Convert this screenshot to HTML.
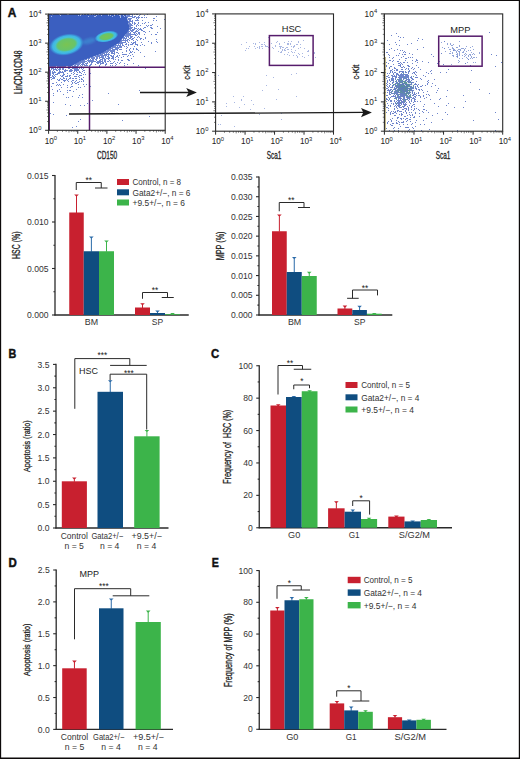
<!DOCTYPE html><html><head><meta charset="utf-8"><title>Figure</title><style>html,body{margin:0;padding:0;background:#fff;}svg{display:block;font-family:"Liberation Sans",sans-serif;}</style></head><body><svg width="520" height="759" viewBox="0 0 520 759" font-family="Liberation Sans"><defs><radialGradient id="blobA" cx="50%" cy="50%" r="50%"><stop offset="0" stop-color="#86c45a"/><stop offset="0.45" stop-color="#62c07a"/><stop offset="0.7" stop-color="#3fbde0"/><stop offset="1" stop-color="#3fa6e0" stop-opacity="0"/></radialGradient><radialGradient id="gb" cx="50%" cy="50%" r="50%"><stop offset="0" stop-color="#7ac452"/><stop offset="0.5" stop-color="#68c46a"/><stop offset="0.64" stop-color="#46c2d6"/><stop offset="0.78" stop-color="#3fb5e8"/><stop offset="0.9" stop-color="#3b86d0" stop-opacity="0.8"/><stop offset="1" stop-color="#3b5fc0" stop-opacity="0"/></radialGradient><radialGradient id="gb2" cx="50%" cy="50%" r="50%"><stop offset="0" stop-color="#7ac452"/><stop offset="0.5" stop-color="#68c46a"/><stop offset="0.66" stop-color="#46c2d6"/><stop offset="0.8" stop-color="#3fb5e8"/><stop offset="0.92" stop-color="#3b86d0" stop-opacity="0.8"/><stop offset="1" stop-color="#3b5fc0" stop-opacity="0"/></radialGradient><filter id="bl1" x="-20%" y="-20%" width="140%" height="140%"><feGaussianBlur stdDeviation="1.2"/></filter><filter id="bl2" x="-50%" y="-50%" width="200%" height="200%"><feGaussianBlur stdDeviation="2.5"/></filter><clipPath id="cp1"><rect x="48.6" y="14.1" width="116.6" height="116.2"/></clipPath><clipPath id="cp3"><rect x="384.4" y="13.9" width="118.3" height="117.3"/></clipPath></defs><rect x="0" y="0" width="520" height="759" fill="#fff"/><g clip-path="url(#cp1)"><polygon points="48,13.5 126,13.5 130,29 119,43 101,54 81,61 72,66 48,66" fill="#3b5fc0"/><path d="M126.0 14.0h1v1h-1zM127.0 14.0h1v1h-1zM128.0 14.0h1v1h-1zM129.0 14.0h1v1h-1zM130.0 14.0h1v1h-1zM131.0 14.0h1v1h-1zM132.0 14.0h1v1h-1zM134.0 14.0h1v1h-1zM136.0 14.0h1v1h-1zM137.0 14.0h1v1h-1zM140.0 14.0h1v1h-1zM147.0 14.0h1v1h-1zM127.0 15.0h1v1h-1zM128.0 15.0h1v1h-1zM129.0 15.0h1v1h-1zM132.0 15.0h1v1h-1zM139.0 15.0h1v1h-1zM144.0 15.0h1v1h-1zM127.0 16.0h1v1h-1zM128.0 16.0h1v1h-1zM129.0 16.0h1v1h-1zM130.0 16.0h1v1h-1zM131.0 16.0h1v1h-1zM132.0 16.0h1v1h-1zM134.0 16.0h1v1h-1zM135.0 16.0h1v1h-1zM138.0 16.0h1v1h-1zM156.0 16.0h1v1h-1zM127.0 17.0h1v1h-1zM132.0 17.0h1v1h-1zM133.0 17.0h1v1h-1zM134.0 17.0h1v1h-1zM136.0 17.0h1v1h-1zM137.0 17.0h1v1h-1zM138.0 17.0h1v1h-1zM139.0 17.0h1v1h-1zM141.0 17.0h1v1h-1zM142.0 17.0h1v1h-1zM144.0 17.0h1v1h-1zM146.0 17.0h1v1h-1zM128.0 18.0h1v1h-1zM129.0 18.0h1v1h-1zM130.0 18.0h1v1h-1zM131.0 18.0h1v1h-1zM136.0 18.0h1v1h-1zM138.0 18.0h1v1h-1zM153.0 18.0h1v1h-1zM154.0 18.0h1v1h-1zM128.0 19.0h1v1h-1zM129.0 19.0h1v1h-1zM130.0 19.0h1v1h-1zM137.0 19.0h1v1h-1zM164.0 19.0h1v1h-1zM129.0 20.0h1v1h-1zM130.0 20.0h1v1h-1zM132.0 20.0h1v1h-1zM135.0 20.0h1v1h-1zM136.0 20.0h1v1h-1zM137.0 20.0h1v1h-1zM138.0 20.0h1v1h-1zM142.0 20.0h1v1h-1zM153.0 20.0h1v1h-1zM156.0 20.0h1v1h-1zM128.0 21.0h1v1h-1zM129.0 21.0h1v1h-1zM130.0 21.0h1v1h-1zM131.0 21.0h1v1h-1zM132.0 21.0h1v1h-1zM128.0 22.0h1v1h-1zM129.0 22.0h1v1h-1zM132.0 22.0h1v1h-1zM134.0 22.0h1v1h-1zM138.0 22.0h1v1h-1zM145.0 22.0h1v1h-1zM148.0 22.0h1v1h-1zM129.0 23.0h1v1h-1zM130.0 23.0h1v1h-1zM132.0 23.0h1v1h-1zM134.0 23.0h1v1h-1zM135.0 23.0h1v1h-1zM138.0 23.0h1v1h-1zM142.0 23.0h1v1h-1zM144.0 23.0h1v1h-1zM129.0 24.0h1v1h-1zM130.0 24.0h1v1h-1zM131.0 24.0h1v1h-1zM134.0 24.0h1v1h-1zM137.0 24.0h1v1h-1zM152.0 24.0h1v1h-1zM129.0 25.0h1v1h-1zM130.0 25.0h1v1h-1zM131.0 25.0h1v1h-1zM132.0 25.0h1v1h-1zM136.0 25.0h1v1h-1zM138.0 25.0h1v1h-1zM140.0 25.0h1v1h-1zM146.0 25.0h1v1h-1zM148.0 25.0h1v1h-1zM150.0 25.0h1v1h-1zM151.0 25.0h1v1h-1zM129.0 26.0h1v1h-1zM130.0 26.0h1v1h-1zM136.0 26.0h1v1h-1zM147.0 26.0h1v1h-1zM157.0 26.0h1v1h-1zM130.0 27.0h1v1h-1zM131.0 27.0h1v1h-1zM132.0 27.0h1v1h-1zM134.0 27.0h1v1h-1zM144.0 27.0h1v1h-1zM145.0 27.0h1v1h-1zM150.0 27.0h1v1h-1zM151.0 27.0h1v1h-1zM130.0 28.0h1v1h-1zM131.0 28.0h1v1h-1zM134.0 28.0h1v1h-1zM135.0 28.0h1v1h-1zM136.0 28.0h1v1h-1zM138.0 28.0h1v1h-1zM140.0 28.0h1v1h-1zM143.0 28.0h1v1h-1zM151.0 28.0h1v1h-1zM152.0 28.0h1v1h-1zM160.0 28.0h1v1h-1zM130.0 29.0h1v1h-1zM132.0 29.0h1v1h-1zM133.0 29.0h1v1h-1zM134.0 29.0h1v1h-1zM137.0 29.0h1v1h-1zM139.0 29.0h1v1h-1zM140.0 29.0h1v1h-1zM141.0 29.0h1v1h-1zM130.0 30.0h1v1h-1zM131.0 30.0h1v1h-1zM132.0 30.0h1v1h-1zM133.0 30.0h1v1h-1zM136.0 30.0h1v1h-1zM138.0 30.0h1v1h-1zM141.0 30.0h1v1h-1zM142.0 30.0h1v1h-1zM128.0 31.0h1v1h-1zM129.0 31.0h1v1h-1zM131.0 31.0h1v1h-1zM132.0 31.0h1v1h-1zM135.0 31.0h1v1h-1zM136.0 31.0h1v1h-1zM137.0 31.0h1v1h-1zM143.0 31.0h1v1h-1zM144.0 31.0h1v1h-1zM149.0 31.0h1v1h-1zM127.0 32.0h1v1h-1zM128.0 32.0h1v1h-1zM130.0 32.0h1v1h-1zM133.0 32.0h1v1h-1zM134.0 32.0h1v1h-1zM135.0 32.0h1v1h-1zM138.0 32.0h1v1h-1zM139.0 32.0h1v1h-1zM145.0 32.0h1v1h-1zM157.0 32.0h1v1h-1zM126.0 33.0h1v1h-1zM127.0 33.0h1v1h-1zM128.0 33.0h1v1h-1zM129.0 33.0h1v1h-1zM130.0 33.0h1v1h-1zM134.0 33.0h1v1h-1zM136.0 33.0h1v1h-1zM138.0 33.0h1v1h-1zM139.0 33.0h1v1h-1zM126.0 34.0h1v1h-1zM127.0 34.0h1v1h-1zM128.0 34.0h1v1h-1zM129.0 34.0h1v1h-1zM130.0 34.0h1v1h-1zM131.0 34.0h1v1h-1zM132.0 34.0h1v1h-1zM133.0 34.0h1v1h-1zM134.0 34.0h1v1h-1zM135.0 34.0h1v1h-1zM137.0 34.0h1v1h-1zM139.0 34.0h1v1h-1zM144.0 34.0h1v1h-1zM151.0 34.0h1v1h-1zM155.0 34.0h1v1h-1zM156.0 34.0h1v1h-1zM125.0 35.0h1v1h-1zM126.0 35.0h1v1h-1zM127.0 35.0h1v1h-1zM128.0 35.0h1v1h-1zM129.0 35.0h1v1h-1zM130.0 35.0h1v1h-1zM135.0 35.0h1v1h-1zM136.0 35.0h1v1h-1zM125.0 36.0h1v1h-1zM126.0 36.0h1v1h-1zM127.0 36.0h1v1h-1zM128.0 36.0h1v1h-1zM130.0 36.0h1v1h-1zM131.0 36.0h1v1h-1zM132.0 36.0h1v1h-1zM138.0 36.0h1v1h-1zM123.0 37.0h1v1h-1zM124.0 37.0h1v1h-1zM126.0 37.0h1v1h-1zM128.0 37.0h1v1h-1zM130.0 37.0h1v1h-1zM131.0 37.0h1v1h-1zM134.0 37.0h1v1h-1zM137.0 37.0h1v1h-1zM139.0 37.0h1v1h-1zM145.0 37.0h1v1h-1zM123.0 38.0h1v1h-1zM124.0 38.0h1v1h-1zM125.0 38.0h1v1h-1zM126.0 38.0h1v1h-1zM129.0 38.0h1v1h-1zM130.0 38.0h1v1h-1zM132.0 38.0h1v1h-1zM133.0 38.0h1v1h-1zM140.0 38.0h1v1h-1zM141.0 38.0h1v1h-1zM145.0 38.0h1v1h-1zM123.0 39.0h1v1h-1zM125.0 39.0h1v1h-1zM127.0 39.0h1v1h-1zM128.0 39.0h1v1h-1zM131.0 39.0h1v1h-1zM132.0 39.0h1v1h-1zM136.0 39.0h1v1h-1zM140.0 39.0h1v1h-1zM143.0 39.0h1v1h-1zM156.0 39.0h1v1h-1zM121.0 40.0h1v1h-1zM122.0 40.0h1v1h-1zM123.0 40.0h1v1h-1zM124.0 40.0h1v1h-1zM125.0 40.0h1v1h-1zM126.0 40.0h1v1h-1zM127.0 40.0h1v1h-1zM129.0 40.0h1v1h-1zM133.0 40.0h1v1h-1zM137.0 40.0h1v1h-1zM120.0 41.0h1v1h-1zM121.0 41.0h1v1h-1zM125.0 41.0h1v1h-1zM127.0 41.0h1v1h-1zM135.0 41.0h1v1h-1zM148.0 41.0h1v1h-1zM156.0 41.0h1v1h-1zM119.0 42.0h1v1h-1zM120.0 42.0h1v1h-1zM121.0 42.0h1v1h-1zM122.0 42.0h1v1h-1zM123.0 42.0h1v1h-1zM124.0 42.0h1v1h-1zM125.0 42.0h1v1h-1zM128.0 42.0h1v1h-1zM131.0 42.0h1v1h-1zM133.0 42.0h1v1h-1zM134.0 42.0h1v1h-1zM135.0 42.0h1v1h-1zM141.0 42.0h1v1h-1zM151.0 42.0h1v1h-1zM157.0 42.0h1v1h-1zM118.0 43.0h1v1h-1zM119.0 43.0h1v1h-1zM120.0 43.0h1v1h-1zM121.0 43.0h1v1h-1zM122.0 43.0h1v1h-1zM126.0 43.0h1v1h-1zM132.0 43.0h1v1h-1zM133.0 43.0h1v1h-1zM135.0 43.0h1v1h-1zM151.0 43.0h1v1h-1zM118.0 44.0h1v1h-1zM120.0 44.0h1v1h-1zM122.0 44.0h1v1h-1zM125.0 44.0h1v1h-1zM126.0 44.0h1v1h-1zM128.0 44.0h1v1h-1zM130.0 44.0h1v1h-1zM131.0 44.0h1v1h-1zM132.0 44.0h1v1h-1zM135.0 44.0h1v1h-1zM136.0 44.0h1v1h-1zM137.0 44.0h1v1h-1zM142.0 44.0h1v1h-1zM115.0 45.0h1v1h-1zM116.0 45.0h1v1h-1zM117.0 45.0h1v1h-1zM118.0 45.0h1v1h-1zM119.0 45.0h1v1h-1zM120.0 45.0h1v1h-1zM122.0 45.0h1v1h-1zM123.0 45.0h1v1h-1zM128.0 45.0h1v1h-1zM137.0 45.0h1v1h-1zM140.0 45.0h1v1h-1zM144.0 45.0h1v1h-1zM113.0 46.0h1v1h-1zM114.0 46.0h1v1h-1zM115.0 46.0h1v1h-1zM117.0 46.0h1v1h-1zM119.0 46.0h1v1h-1zM120.0 46.0h1v1h-1zM121.0 46.0h1v1h-1zM124.0 46.0h1v1h-1zM126.0 46.0h1v1h-1zM134.0 46.0h1v1h-1zM112.0 47.0h1v1h-1zM113.0 47.0h1v1h-1zM114.0 47.0h1v1h-1zM115.0 47.0h1v1h-1zM116.0 47.0h1v1h-1zM117.0 47.0h1v1h-1zM118.0 47.0h1v1h-1zM119.0 47.0h1v1h-1zM120.0 47.0h1v1h-1zM121.0 47.0h1v1h-1zM127.0 47.0h1v1h-1zM110.0 48.0h1v1h-1zM111.0 48.0h1v1h-1zM112.0 48.0h1v1h-1zM115.0 48.0h1v1h-1zM116.0 48.0h1v1h-1zM117.0 48.0h1v1h-1zM118.0 48.0h1v1h-1zM126.0 48.0h1v1h-1zM130.0 48.0h1v1h-1zM133.0 48.0h1v1h-1zM136.0 48.0h1v1h-1zM108.0 49.0h1v1h-1zM109.0 49.0h1v1h-1zM110.0 49.0h1v1h-1zM112.0 49.0h1v1h-1zM113.0 49.0h1v1h-1zM114.0 49.0h1v1h-1zM115.0 49.0h1v1h-1zM116.0 49.0h1v1h-1zM117.0 49.0h1v1h-1zM119.0 49.0h1v1h-1zM120.0 49.0h1v1h-1zM121.0 49.0h1v1h-1zM129.0 49.0h1v1h-1zM133.0 49.0h1v1h-1zM136.0 49.0h1v1h-1zM137.0 49.0h1v1h-1zM107.0 50.0h1v1h-1zM108.0 50.0h1v1h-1zM109.0 50.0h1v1h-1zM110.0 50.0h1v1h-1zM111.0 50.0h1v1h-1zM112.0 50.0h1v1h-1zM113.0 50.0h1v1h-1zM114.0 50.0h1v1h-1zM117.0 50.0h1v1h-1zM126.0 50.0h1v1h-1zM129.0 50.0h1v1h-1zM138.0 50.0h1v1h-1zM105.0 51.0h1v1h-1zM106.0 51.0h1v1h-1zM107.0 51.0h1v1h-1zM108.0 51.0h1v1h-1zM110.0 51.0h1v1h-1zM111.0 51.0h1v1h-1zM112.0 51.0h1v1h-1zM113.0 51.0h1v1h-1zM114.0 51.0h1v1h-1zM126.0 51.0h1v1h-1zM130.0 51.0h1v1h-1zM132.0 51.0h1v1h-1zM155.0 51.0h1v1h-1zM103.0 52.0h1v1h-1zM104.0 52.0h1v1h-1zM105.0 52.0h1v1h-1zM106.0 52.0h1v1h-1zM107.0 52.0h1v1h-1zM109.0 52.0h1v1h-1zM111.0 52.0h1v1h-1zM112.0 52.0h1v1h-1zM114.0 52.0h1v1h-1zM116.0 52.0h1v1h-1zM117.0 52.0h1v1h-1zM122.0 52.0h1v1h-1zM130.0 52.0h1v1h-1zM131.0 52.0h1v1h-1zM134.0 52.0h1v1h-1zM140.0 52.0h1v1h-1zM102.0 53.0h1v1h-1zM103.0 53.0h1v1h-1zM104.0 53.0h1v1h-1zM106.0 53.0h1v1h-1zM108.0 53.0h1v1h-1zM111.0 53.0h1v1h-1zM112.0 53.0h1v1h-1zM113.0 53.0h1v1h-1zM114.0 53.0h1v1h-1zM118.0 53.0h1v1h-1zM129.0 53.0h1v1h-1zM100.0 54.0h1v1h-1zM101.0 54.0h1v1h-1zM102.0 54.0h1v1h-1zM104.0 54.0h1v1h-1zM105.0 54.0h1v1h-1zM106.0 54.0h1v1h-1zM107.0 54.0h1v1h-1zM108.0 54.0h1v1h-1zM109.0 54.0h1v1h-1zM114.0 54.0h1v1h-1zM122.0 54.0h1v1h-1zM123.0 54.0h1v1h-1zM124.0 54.0h1v1h-1zM125.0 54.0h1v1h-1zM126.0 54.0h1v1h-1zM132.0 54.0h1v1h-1zM97.0 55.0h1v1h-1zM98.0 55.0h1v1h-1zM99.0 55.0h1v1h-1zM100.0 55.0h1v1h-1zM101.0 55.0h1v1h-1zM102.0 55.0h1v1h-1zM103.0 55.0h1v1h-1zM104.0 55.0h1v1h-1zM105.0 55.0h1v1h-1zM106.0 55.0h1v1h-1zM108.0 55.0h1v1h-1zM110.0 55.0h1v1h-1zM111.0 55.0h1v1h-1zM113.0 55.0h1v1h-1zM117.0 55.0h1v1h-1zM119.0 55.0h1v1h-1zM128.0 55.0h1v1h-1zM130.0 55.0h1v1h-1zM95.0 56.0h1v1h-1zM96.0 56.0h1v1h-1zM97.0 56.0h1v1h-1zM98.0 56.0h1v1h-1zM99.0 56.0h1v1h-1zM101.0 56.0h1v1h-1zM102.0 56.0h1v1h-1zM103.0 56.0h1v1h-1zM105.0 56.0h1v1h-1zM107.0 56.0h1v1h-1zM108.0 56.0h1v1h-1zM111.0 56.0h1v1h-1zM112.0 56.0h1v1h-1zM113.0 56.0h1v1h-1zM116.0 56.0h1v1h-1zM117.0 56.0h1v1h-1zM123.0 56.0h1v1h-1zM127.0 56.0h1v1h-1zM133.0 56.0h1v1h-1zM144.0 56.0h1v1h-1zM91.0 57.0h1v1h-1zM92.0 57.0h1v1h-1zM93.0 57.0h1v1h-1zM94.0 57.0h1v1h-1zM96.0 57.0h1v1h-1zM97.0 57.0h1v1h-1zM99.0 57.0h1v1h-1zM100.0 57.0h1v1h-1zM101.0 57.0h1v1h-1zM102.0 57.0h1v1h-1zM103.0 57.0h1v1h-1zM105.0 57.0h1v1h-1zM108.0 57.0h1v1h-1zM109.0 57.0h1v1h-1zM112.0 57.0h1v1h-1zM113.0 57.0h1v1h-1zM115.0 57.0h1v1h-1zM118.0 57.0h1v1h-1zM121.0 57.0h1v1h-1zM88.0 58.0h1v1h-1zM89.0 58.0h1v1h-1zM91.0 58.0h1v1h-1zM92.0 58.0h1v1h-1zM93.0 58.0h1v1h-1zM94.0 58.0h1v1h-1zM96.0 58.0h1v1h-1zM97.0 58.0h1v1h-1zM99.0 58.0h1v1h-1zM102.0 58.0h1v1h-1zM103.0 58.0h1v1h-1zM104.0 58.0h1v1h-1zM106.0 58.0h1v1h-1zM107.0 58.0h1v1h-1zM108.0 58.0h1v1h-1zM109.0 58.0h1v1h-1zM111.0 58.0h1v1h-1zM112.0 58.0h1v1h-1zM113.0 58.0h1v1h-1zM131.0 58.0h1v1h-1zM85.0 59.0h1v1h-1zM86.0 59.0h1v1h-1zM88.0 59.0h1v1h-1zM90.0 59.0h1v1h-1zM92.0 59.0h1v1h-1zM93.0 59.0h1v1h-1zM95.0 59.0h1v1h-1zM96.0 59.0h1v1h-1zM100.0 59.0h1v1h-1zM101.0 59.0h1v1h-1zM102.0 59.0h1v1h-1zM104.0 59.0h1v1h-1zM105.0 59.0h1v1h-1zM108.0 59.0h1v1h-1zM113.0 59.0h1v1h-1zM115.0 59.0h1v1h-1zM118.0 59.0h1v1h-1zM127.0 59.0h1v1h-1zM128.0 59.0h1v1h-1zM82.0 60.0h1v1h-1zM83.0 60.0h1v1h-1zM84.0 60.0h1v1h-1zM87.0 60.0h1v1h-1zM88.0 60.0h1v1h-1zM89.0 60.0h1v1h-1zM90.0 60.0h1v1h-1zM91.0 60.0h1v1h-1zM92.0 60.0h1v1h-1zM93.0 60.0h1v1h-1zM96.0 60.0h1v1h-1zM99.0 60.0h1v1h-1zM100.0 60.0h1v1h-1zM102.0 60.0h1v1h-1zM104.0 60.0h1v1h-1zM105.0 60.0h1v1h-1zM109.0 60.0h1v1h-1zM118.0 60.0h1v1h-1zM121.0 60.0h1v1h-1zM122.0 60.0h1v1h-1zM128.0 60.0h1v1h-1zM129.0 60.0h1v1h-1zM80.0 61.0h1v1h-1zM81.0 61.0h1v1h-1zM82.0 61.0h1v1h-1zM83.0 61.0h1v1h-1zM84.0 61.0h1v1h-1zM85.0 61.0h1v1h-1zM86.0 61.0h1v1h-1zM88.0 61.0h1v1h-1zM89.0 61.0h1v1h-1zM90.0 61.0h1v1h-1zM91.0 61.0h1v1h-1zM92.0 61.0h1v1h-1zM93.0 61.0h1v1h-1zM94.0 61.0h1v1h-1zM95.0 61.0h1v1h-1zM97.0 61.0h1v1h-1zM98.0 61.0h1v1h-1zM99.0 61.0h1v1h-1zM100.0 61.0h1v1h-1zM101.0 61.0h1v1h-1zM102.0 61.0h1v1h-1zM104.0 61.0h1v1h-1zM105.0 61.0h1v1h-1zM107.0 61.0h1v1h-1zM108.0 61.0h1v1h-1zM110.0 61.0h1v1h-1zM114.0 61.0h1v1h-1zM78.0 62.0h1v1h-1zM79.0 62.0h1v1h-1zM80.0 62.0h1v1h-1zM81.0 62.0h1v1h-1zM82.0 62.0h1v1h-1zM83.0 62.0h1v1h-1zM84.0 62.0h1v1h-1zM87.0 62.0h1v1h-1zM89.0 62.0h1v1h-1zM91.0 62.0h1v1h-1zM92.0 62.0h1v1h-1zM96.0 62.0h1v1h-1zM97.0 62.0h1v1h-1zM98.0 62.0h1v1h-1zM99.0 62.0h1v1h-1zM100.0 62.0h1v1h-1zM102.0 62.0h1v1h-1zM103.0 62.0h1v1h-1zM105.0 62.0h1v1h-1zM113.0 62.0h1v1h-1zM117.0 62.0h1v1h-1zM120.0 62.0h1v1h-1zM76.0 63.0h1v1h-1zM77.0 63.0h1v1h-1zM78.0 63.0h1v1h-1zM79.0 63.0h1v1h-1zM80.0 63.0h1v1h-1zM82.0 63.0h1v1h-1zM83.0 63.0h1v1h-1zM85.0 63.0h1v1h-1zM86.0 63.0h1v1h-1zM87.0 63.0h1v1h-1zM91.0 63.0h1v1h-1zM97.0 63.0h1v1h-1zM98.0 63.0h1v1h-1zM100.0 63.0h1v1h-1zM101.0 63.0h1v1h-1zM102.0 63.0h1v1h-1zM103.0 63.0h1v1h-1zM106.0 63.0h1v1h-1zM110.0 63.0h1v1h-1zM111.0 63.0h1v1h-1zM112.0 63.0h1v1h-1zM115.0 63.0h1v1h-1zM119.0 63.0h1v1h-1zM124.0 63.0h1v1h-1zM133.0 63.0h1v1h-1zM75.0 64.0h1v1h-1zM76.0 64.0h1v1h-1zM77.0 64.0h1v1h-1zM78.0 64.0h1v1h-1zM79.0 64.0h1v1h-1zM81.0 64.0h1v1h-1zM82.0 64.0h1v1h-1zM83.0 64.0h1v1h-1zM84.0 64.0h1v1h-1zM86.0 64.0h1v1h-1zM90.0 64.0h1v1h-1zM91.0 64.0h1v1h-1zM95.0 64.0h1v1h-1zM100.0 64.0h1v1h-1zM105.0 64.0h1v1h-1zM106.0 64.0h1v1h-1zM116.0 64.0h1v1h-1zM127.0 64.0h1v1h-1zM74.0 65.0h1v1h-1zM75.0 65.0h1v1h-1zM77.0 65.0h1v1h-1zM78.0 65.0h1v1h-1zM80.0 65.0h1v1h-1zM82.0 65.0h1v1h-1zM84.0 65.0h1v1h-1zM85.0 65.0h1v1h-1zM86.0 65.0h1v1h-1zM87.0 65.0h1v1h-1zM89.0 65.0h1v1h-1zM90.0 65.0h1v1h-1zM99.0 65.0h1v1h-1zM105.0 65.0h1v1h-1zM110.0 65.0h1v1h-1zM112.0 65.0h1v1h-1zM115.0 65.0h1v1h-1zM124.0 65.0h1v1h-1zM138.0 65.0h1v1h-1zM49.0 66.0h1v1h-1zM50.0 66.0h1v1h-1zM51.0 66.0h1v1h-1zM52.0 66.0h1v1h-1zM53.0 66.0h1v1h-1zM54.0 66.0h1v1h-1zM55.0 66.0h1v1h-1zM57.0 66.0h1v1h-1zM58.0 66.0h1v1h-1zM59.0 66.0h1v1h-1zM60.0 66.0h1v1h-1zM61.0 66.0h1v1h-1zM62.0 66.0h1v1h-1zM63.0 66.0h1v1h-1zM64.0 66.0h1v1h-1zM65.0 66.0h1v1h-1zM68.0 66.0h1v1h-1zM69.0 66.0h1v1h-1zM70.0 66.0h1v1h-1zM72.0 66.0h1v1h-1zM73.0 66.0h1v1h-1zM74.0 66.0h1v1h-1zM75.0 66.0h1v1h-1zM76.0 66.0h1v1h-1zM77.0 66.0h1v1h-1zM81.0 66.0h1v1h-1zM89.0 66.0h1v1h-1zM99.0 66.0h1v1h-1zM49.0 67.0h1v1h-1zM50.0 67.0h1v1h-1zM51.0 67.0h1v1h-1zM52.0 67.0h1v1h-1zM54.0 67.0h1v1h-1zM56.0 67.0h1v1h-1zM57.0 67.0h1v1h-1zM58.0 67.0h1v1h-1zM59.0 67.0h1v1h-1zM60.0 67.0h1v1h-1zM61.0 67.0h1v1h-1zM62.0 67.0h1v1h-1zM64.0 67.0h1v1h-1zM66.0 67.0h1v1h-1zM67.0 67.0h1v1h-1zM68.0 67.0h1v1h-1zM69.0 67.0h1v1h-1zM70.0 67.0h1v1h-1zM71.0 67.0h1v1h-1zM72.0 67.0h1v1h-1zM73.0 67.0h1v1h-1zM74.0 67.0h1v1h-1zM75.0 67.0h1v1h-1zM78.0 67.0h1v1h-1zM82.0 67.0h1v1h-1zM85.0 67.0h1v1h-1zM86.0 67.0h1v1h-1zM51.0 68.0h1v1h-1zM52.0 68.0h1v1h-1zM53.0 68.0h1v1h-1zM55.0 68.0h1v1h-1zM57.0 68.0h1v1h-1zM59.0 68.0h1v1h-1zM60.0 68.0h1v1h-1zM62.0 68.0h1v1h-1zM63.0 68.0h1v1h-1zM68.0 68.0h1v1h-1zM69.0 68.0h1v1h-1zM72.0 68.0h1v1h-1zM73.0 68.0h1v1h-1zM74.0 68.0h1v1h-1zM75.0 68.0h1v1h-1zM76.0 68.0h1v1h-1zM77.0 68.0h1v1h-1zM79.0 68.0h1v1h-1zM81.0 68.0h1v1h-1zM83.0 68.0h1v1h-1zM145.0 68.0h1v1h-1zM49.0 69.0h1v1h-1zM51.0 69.0h1v1h-1zM53.0 69.0h1v1h-1zM54.0 69.0h1v1h-1zM55.0 69.0h1v1h-1zM56.0 69.0h1v1h-1zM58.0 69.0h1v1h-1zM59.0 69.0h1v1h-1zM60.0 69.0h1v1h-1zM62.0 69.0h1v1h-1zM63.0 69.0h1v1h-1zM65.0 69.0h1v1h-1zM70.0 69.0h1v1h-1zM71.0 69.0h1v1h-1zM74.0 69.0h1v1h-1zM75.0 69.0h1v1h-1zM76.0 69.0h1v1h-1zM77.0 69.0h1v1h-1zM78.0 69.0h1v1h-1zM82.0 69.0h1v1h-1zM49.0 70.0h1v1h-1zM50.0 70.0h1v1h-1zM53.0 70.0h1v1h-1zM56.0 70.0h1v1h-1zM57.0 70.0h1v1h-1zM59.0 70.0h1v1h-1zM64.0 70.0h1v1h-1zM65.0 70.0h1v1h-1zM66.0 70.0h1v1h-1zM67.0 70.0h1v1h-1zM69.0 70.0h1v1h-1zM70.0 70.0h1v1h-1zM71.0 70.0h1v1h-1zM72.0 70.0h1v1h-1zM74.0 70.0h1v1h-1zM75.0 70.0h1v1h-1zM76.0 70.0h1v1h-1zM77.0 70.0h1v1h-1zM78.0 70.0h1v1h-1zM83.0 70.0h1v1h-1zM84.0 70.0h1v1h-1zM50.0 71.0h1v1h-1zM52.0 71.0h1v1h-1zM54.0 71.0h1v1h-1zM59.0 71.0h1v1h-1zM60.0 71.0h1v1h-1zM62.0 71.0h1v1h-1zM64.0 71.0h1v1h-1zM65.0 71.0h1v1h-1zM69.0 71.0h1v1h-1zM70.0 71.0h1v1h-1zM71.0 71.0h1v1h-1zM74.0 71.0h1v1h-1zM76.0 71.0h1v1h-1zM79.0 71.0h1v1h-1zM82.0 71.0h1v1h-1zM50.0 72.0h1v1h-1zM52.0 72.0h1v1h-1zM53.0 72.0h1v1h-1zM54.0 72.0h1v1h-1zM55.0 72.0h1v1h-1zM58.0 72.0h1v1h-1zM59.0 72.0h1v1h-1zM60.0 72.0h1v1h-1zM61.0 72.0h1v1h-1zM62.0 72.0h1v1h-1zM63.0 72.0h1v1h-1zM73.0 72.0h1v1h-1zM77.0 72.0h1v1h-1zM79.0 72.0h1v1h-1zM80.0 72.0h1v1h-1zM84.0 72.0h1v1h-1zM50.0 73.0h1v1h-1zM52.0 73.0h1v1h-1zM53.0 73.0h1v1h-1zM57.0 73.0h1v1h-1zM58.0 73.0h1v1h-1zM59.0 73.0h1v1h-1zM63.0 73.0h1v1h-1zM67.0 73.0h1v1h-1zM71.0 73.0h1v1h-1zM74.0 73.0h1v1h-1zM81.0 73.0h1v1h-1zM90.0 73.0h1v1h-1zM50.0 74.0h1v1h-1zM53.0 74.0h1v1h-1zM55.0 74.0h1v1h-1zM56.0 74.0h1v1h-1zM57.0 74.0h1v1h-1zM63.0 74.0h1v1h-1zM64.0 74.0h1v1h-1zM73.0 74.0h1v1h-1zM76.0 74.0h1v1h-1zM77.0 74.0h1v1h-1zM83.0 74.0h1v1h-1zM85.0 74.0h1v1h-1zM50.0 75.0h1v1h-1zM52.0 75.0h1v1h-1zM54.0 75.0h1v1h-1zM60.0 75.0h1v1h-1zM62.0 75.0h1v1h-1zM63.0 75.0h1v1h-1zM67.0 75.0h1v1h-1zM69.0 75.0h1v1h-1zM70.0 75.0h1v1h-1zM79.0 75.0h1v1h-1zM80.0 75.0h1v1h-1zM81.0 75.0h1v1h-1zM49.0 76.0h1v1h-1zM52.0 76.0h1v1h-1zM53.0 76.0h1v1h-1zM55.0 76.0h1v1h-1zM61.0 76.0h1v1h-1zM62.0 76.0h1v1h-1zM65.0 76.0h1v1h-1zM66.0 76.0h1v1h-1zM67.0 76.0h1v1h-1zM69.0 76.0h1v1h-1zM74.0 76.0h1v1h-1zM75.0 76.0h1v1h-1zM76.0 76.0h1v1h-1zM78.0 76.0h1v1h-1zM89.0 76.0h1v1h-1zM50.0 77.0h1v1h-1zM51.0 77.0h1v1h-1zM53.0 77.0h1v1h-1zM54.0 77.0h1v1h-1zM63.0 77.0h1v1h-1zM70.0 77.0h1v1h-1zM79.0 77.0h1v1h-1zM83.0 77.0h1v1h-1zM52.0 78.0h1v1h-1zM53.0 78.0h1v1h-1zM54.0 78.0h1v1h-1zM60.0 78.0h1v1h-1zM63.0 78.0h1v1h-1zM64.0 78.0h1v1h-1zM66.0 78.0h1v1h-1zM69.0 78.0h1v1h-1zM70.0 78.0h1v1h-1zM72.0 78.0h1v1h-1zM73.0 78.0h1v1h-1zM75.0 78.0h1v1h-1zM76.0 78.0h1v1h-1zM81.0 78.0h1v1h-1zM49.0 79.0h1v1h-1zM51.0 79.0h1v1h-1zM57.0 79.0h1v1h-1zM59.0 79.0h1v1h-1zM61.0 79.0h1v1h-1zM62.0 79.0h1v1h-1zM66.0 79.0h1v1h-1zM68.0 79.0h1v1h-1zM79.0 79.0h1v1h-1zM81.0 79.0h1v1h-1zM82.0 79.0h1v1h-1zM49.0 80.0h1v1h-1zM58.0 80.0h1v1h-1zM59.0 80.0h1v1h-1zM63.0 80.0h1v1h-1zM64.0 80.0h1v1h-1zM65.0 80.0h1v1h-1zM67.0 80.0h1v1h-1zM72.0 80.0h1v1h-1zM73.0 80.0h1v1h-1zM76.0 80.0h1v1h-1zM83.0 80.0h1v1h-1zM49.0 81.0h1v1h-1zM64.0 81.0h1v1h-1zM68.0 81.0h1v1h-1zM71.0 81.0h1v1h-1zM75.0 81.0h1v1h-1zM79.0 81.0h1v1h-1zM81.0 81.0h1v1h-1zM83.0 81.0h1v1h-1zM56.0 82.0h1v1h-1zM61.0 82.0h1v1h-1zM72.0 82.0h1v1h-1zM74.0 82.0h1v1h-1zM77.0 82.0h1v1h-1zM78.0 82.0h1v1h-1zM52.0 83.0h1v1h-1zM53.0 83.0h1v1h-1zM72.0 83.0h1v1h-1zM75.0 83.0h1v1h-1zM76.0 83.0h1v1h-1zM57.0 84.0h1v1h-1zM59.0 84.0h1v1h-1zM63.0 84.0h1v1h-1zM71.0 84.0h1v1h-1zM78.0 84.0h1v1h-1zM83.0 84.0h1v1h-1zM86.0 84.0h1v1h-1zM56.0 85.0h1v1h-1zM58.0 85.0h1v1h-1zM60.0 85.0h1v1h-1zM67.0 85.0h1v1h-1zM51.0 86.0h1v1h-1zM71.0 86.0h1v1h-1zM72.0 86.0h1v1h-1zM84.0 86.0h1v1h-1zM90.0 86.0h1v1h-1zM61.0 87.0h1v1h-1zM67.0 87.0h1v1h-1zM70.0 87.0h1v1h-1zM78.0 87.0h1v1h-1zM80.0 87.0h1v1h-1zM52.0 89.0h1v1h-1zM59.0 89.0h1v1h-1zM76.0 89.0h1v1h-1zM57.0 90.0h1v1h-1zM67.0 90.0h1v1h-1zM69.0 90.0h1v1h-1zM70.0 90.0h1v1h-1zM139.0 90.0h1v1h-1zM57.0 91.0h1v1h-1zM60.0 91.0h1v1h-1zM73.0 91.0h1v1h-1zM67.0 92.0h1v1h-1zM53.0 93.0h1v1h-1zM108.0 93.0h1v1h-1zM63.0 94.0h1v1h-1zM82.0 94.0h1v1h-1zM53.0 95.0h1v1h-1zM79.0 95.0h1v1h-1zM72.0 96.0h1v1h-1zM49.0 97.0h1v1h-1zM66.0 97.0h1v1h-1zM68.0 97.0h1v1h-1zM78.0 97.0h1v1h-1zM82.0 97.0h1v1h-1zM92.0 100.0h1v1h-1zM49.0 101.0h1v1h-1zM53.0 102.0h1v1h-1zM87.0 103.0h1v1h-1zM49.0 104.0h1v1h-1zM65.0 104.0h1v1h-1zM118.0 104.0h1v1h-1zM70.0 105.0h1v1h-1zM80.0 105.0h1v1h-1zM84.0 105.0h1v1h-1zM50.0 113.0h1v1h-1zM53.0 114.0h1v1h-1zM66.0 115.0h1v1h-1zM149.0 116.0h1v1h-1zM80.0 119.0h1v1h-1zM122.0 120.0h1v1h-1zM78.0 121.0h1v1h-1zM76.0 126.0h1v1h-1zM72.0 127.0h1v1h-1zM144.0 130.0h1v1h-1z" fill="#4868c4" fill-opacity="0.8"/><path d="M52.0 14.0h1v1h-1zM59.0 14.0h1v1h-1zM67.0 14.0h1v1h-1zM68.0 14.0h1v1h-1zM80.0 14.0h1v1h-1zM81.0 14.0h1v1h-1zM83.0 14.0h1v1h-1zM86.0 14.0h1v1h-1zM89.0 14.0h1v1h-1zM90.0 14.0h1v1h-1zM92.0 14.0h1v1h-1zM94.0 14.0h1v1h-1zM98.0 14.0h1v1h-1zM108.0 14.0h1v1h-1zM114.0 14.0h1v1h-1zM117.0 14.0h1v1h-1zM60.0 15.0h1v1h-1zM78.0 15.0h1v1h-1zM80.0 15.0h1v1h-1zM96.0 15.0h1v1h-1zM101.0 15.0h1v1h-1zM108.0 15.0h1v1h-1zM110.0 15.0h1v1h-1zM114.0 15.0h1v1h-1zM119.0 15.0h1v1h-1zM120.0 15.0h1v1h-1zM123.0 15.0h1v1h-1zM51.0 16.0h1v1h-1zM88.0 16.0h1v1h-1zM94.0 16.0h1v1h-1zM95.0 16.0h1v1h-1zM112.0 16.0h1v1h-1zM120.0 16.0h1v1h-1zM124.0 16.0h1v1h-1zM120.0 17.0h1v1h-1z" fill="#c8d2f0" fill-opacity="0.8"/><ellipse cx="66.5" cy="44.6" rx="18" ry="11" fill="url(#gb)" transform="rotate(-12 66.5 44.6)"/><ellipse cx="106.5" cy="36.6" rx="12.2" ry="5.6" fill="url(#gb2)" transform="rotate(-12 106.5 36.6)"/><ellipse cx="89" cy="41" rx="7" ry="2.8" fill="#3fa0dc" opacity="0.5" filter="url(#bl1)" transform="rotate(-15 89 41)"/></g><polyline points="48.6,67.2 165,67.2" fill="none" stroke="#561c6c" stroke-width="1.5"/><polyline points="89.5,67.2 89.5,130.3" fill="none" stroke="#561c6c" stroke-width="1.5"/><polyline points="49.2,67.2 49.2,130" fill="none" stroke="#561c6c" stroke-width="1.5"/><rect x="48.6" y="14.1" width="116.6" height="116.2" fill="none" stroke="#2a2a2a" stroke-width="1.1"/><line x1="45.1" y1="130.3" x2="48.6" y2="130.3" stroke="#2a2a2a" stroke-width="1"/><line x1="48.6" y1="130.3" x2="48.6" y2="133.8" stroke="#2a2a2a" stroke-width="1"/><line x1="47" y1="121.56" x2="48.6" y2="121.56" stroke="#2a2a2a" stroke-width="0.6"/><line x1="57.38" y1="130.3" x2="57.38" y2="131.9" stroke="#2a2a2a" stroke-width="0.6"/><line x1="47" y1="116.44" x2="48.6" y2="116.44" stroke="#2a2a2a" stroke-width="0.6"/><line x1="62.51" y1="130.3" x2="62.51" y2="131.9" stroke="#2a2a2a" stroke-width="0.6"/><line x1="47" y1="112.81" x2="48.6" y2="112.81" stroke="#2a2a2a" stroke-width="0.6"/><line x1="66.15" y1="130.3" x2="66.15" y2="131.9" stroke="#2a2a2a" stroke-width="0.6"/><line x1="46.4" y1="109.99" x2="48.6" y2="109.99" stroke="#2a2a2a" stroke-width="0.6"/><line x1="68.97" y1="130.3" x2="68.97" y2="132.5" stroke="#2a2a2a" stroke-width="0.6"/><line x1="47" y1="107.69" x2="48.6" y2="107.69" stroke="#2a2a2a" stroke-width="0.6"/><line x1="71.28" y1="130.3" x2="71.28" y2="131.9" stroke="#2a2a2a" stroke-width="0.6"/><line x1="47" y1="105.75" x2="48.6" y2="105.75" stroke="#2a2a2a" stroke-width="0.6"/><line x1="73.23" y1="130.3" x2="73.23" y2="131.9" stroke="#2a2a2a" stroke-width="0.6"/><line x1="47" y1="104.07" x2="48.6" y2="104.07" stroke="#2a2a2a" stroke-width="0.6"/><line x1="74.93" y1="130.3" x2="74.93" y2="131.9" stroke="#2a2a2a" stroke-width="0.6"/><line x1="47" y1="102.58" x2="48.6" y2="102.58" stroke="#2a2a2a" stroke-width="0.6"/><line x1="76.42" y1="130.3" x2="76.42" y2="131.9" stroke="#2a2a2a" stroke-width="0.6"/><line x1="45.1" y1="101.25" x2="48.6" y2="101.25" stroke="#2a2a2a" stroke-width="1"/><line x1="77.75" y1="130.3" x2="77.75" y2="133.8" stroke="#2a2a2a" stroke-width="1"/><line x1="47" y1="92.51" x2="48.6" y2="92.51" stroke="#2a2a2a" stroke-width="0.6"/><line x1="86.53" y1="130.3" x2="86.53" y2="131.9" stroke="#2a2a2a" stroke-width="0.6"/><line x1="47" y1="87.39" x2="48.6" y2="87.39" stroke="#2a2a2a" stroke-width="0.6"/><line x1="91.66" y1="130.3" x2="91.66" y2="131.9" stroke="#2a2a2a" stroke-width="0.6"/><line x1="47" y1="83.76" x2="48.6" y2="83.76" stroke="#2a2a2a" stroke-width="0.6"/><line x1="95.3" y1="130.3" x2="95.3" y2="131.9" stroke="#2a2a2a" stroke-width="0.6"/><line x1="46.4" y1="80.94" x2="48.6" y2="80.94" stroke="#2a2a2a" stroke-width="0.6"/><line x1="98.12" y1="130.3" x2="98.12" y2="132.5" stroke="#2a2a2a" stroke-width="0.6"/><line x1="47" y1="78.64" x2="48.6" y2="78.64" stroke="#2a2a2a" stroke-width="0.6"/><line x1="100.43" y1="130.3" x2="100.43" y2="131.9" stroke="#2a2a2a" stroke-width="0.6"/><line x1="47" y1="76.7" x2="48.6" y2="76.7" stroke="#2a2a2a" stroke-width="0.6"/><line x1="102.38" y1="130.3" x2="102.38" y2="131.9" stroke="#2a2a2a" stroke-width="0.6"/><line x1="47" y1="75.02" x2="48.6" y2="75.02" stroke="#2a2a2a" stroke-width="0.6"/><line x1="104.08" y1="130.3" x2="104.08" y2="131.9" stroke="#2a2a2a" stroke-width="0.6"/><line x1="47" y1="73.53" x2="48.6" y2="73.53" stroke="#2a2a2a" stroke-width="0.6"/><line x1="105.57" y1="130.3" x2="105.57" y2="131.9" stroke="#2a2a2a" stroke-width="0.6"/><line x1="45.1" y1="72.2" x2="48.6" y2="72.2" stroke="#2a2a2a" stroke-width="1"/><line x1="106.9" y1="130.3" x2="106.9" y2="133.8" stroke="#2a2a2a" stroke-width="1"/><line x1="47" y1="63.46" x2="48.6" y2="63.46" stroke="#2a2a2a" stroke-width="0.6"/><line x1="115.68" y1="130.3" x2="115.68" y2="131.9" stroke="#2a2a2a" stroke-width="0.6"/><line x1="47" y1="58.34" x2="48.6" y2="58.34" stroke="#2a2a2a" stroke-width="0.6"/><line x1="120.81" y1="130.3" x2="120.81" y2="131.9" stroke="#2a2a2a" stroke-width="0.6"/><line x1="47" y1="54.71" x2="48.6" y2="54.71" stroke="#2a2a2a" stroke-width="0.6"/><line x1="124.45" y1="130.3" x2="124.45" y2="131.9" stroke="#2a2a2a" stroke-width="0.6"/><line x1="46.4" y1="51.89" x2="48.6" y2="51.89" stroke="#2a2a2a" stroke-width="0.6"/><line x1="127.27" y1="130.3" x2="127.27" y2="132.5" stroke="#2a2a2a" stroke-width="0.6"/><line x1="47" y1="49.59" x2="48.6" y2="49.59" stroke="#2a2a2a" stroke-width="0.6"/><line x1="129.58" y1="130.3" x2="129.58" y2="131.9" stroke="#2a2a2a" stroke-width="0.6"/><line x1="47" y1="47.65" x2="48.6" y2="47.65" stroke="#2a2a2a" stroke-width="0.6"/><line x1="131.53" y1="130.3" x2="131.53" y2="131.9" stroke="#2a2a2a" stroke-width="0.6"/><line x1="47" y1="45.97" x2="48.6" y2="45.97" stroke="#2a2a2a" stroke-width="0.6"/><line x1="133.23" y1="130.3" x2="133.23" y2="131.9" stroke="#2a2a2a" stroke-width="0.6"/><line x1="47" y1="44.48" x2="48.6" y2="44.48" stroke="#2a2a2a" stroke-width="0.6"/><line x1="134.72" y1="130.3" x2="134.72" y2="131.9" stroke="#2a2a2a" stroke-width="0.6"/><line x1="45.1" y1="43.15" x2="48.6" y2="43.15" stroke="#2a2a2a" stroke-width="1"/><line x1="136.05" y1="130.3" x2="136.05" y2="133.8" stroke="#2a2a2a" stroke-width="1"/><line x1="47" y1="34.41" x2="48.6" y2="34.41" stroke="#2a2a2a" stroke-width="0.6"/><line x1="144.83" y1="130.3" x2="144.83" y2="131.9" stroke="#2a2a2a" stroke-width="0.6"/><line x1="47" y1="29.29" x2="48.6" y2="29.29" stroke="#2a2a2a" stroke-width="0.6"/><line x1="149.96" y1="130.3" x2="149.96" y2="131.9" stroke="#2a2a2a" stroke-width="0.6"/><line x1="47" y1="25.66" x2="48.6" y2="25.66" stroke="#2a2a2a" stroke-width="0.6"/><line x1="153.6" y1="130.3" x2="153.6" y2="131.9" stroke="#2a2a2a" stroke-width="0.6"/><line x1="46.4" y1="22.84" x2="48.6" y2="22.84" stroke="#2a2a2a" stroke-width="0.6"/><line x1="156.42" y1="130.3" x2="156.42" y2="132.5" stroke="#2a2a2a" stroke-width="0.6"/><line x1="47" y1="20.54" x2="48.6" y2="20.54" stroke="#2a2a2a" stroke-width="0.6"/><line x1="158.73" y1="130.3" x2="158.73" y2="131.9" stroke="#2a2a2a" stroke-width="0.6"/><line x1="47" y1="18.6" x2="48.6" y2="18.6" stroke="#2a2a2a" stroke-width="0.6"/><line x1="160.68" y1="130.3" x2="160.68" y2="131.9" stroke="#2a2a2a" stroke-width="0.6"/><line x1="47" y1="16.92" x2="48.6" y2="16.92" stroke="#2a2a2a" stroke-width="0.6"/><line x1="162.38" y1="130.3" x2="162.38" y2="131.9" stroke="#2a2a2a" stroke-width="0.6"/><line x1="47" y1="15.43" x2="48.6" y2="15.43" stroke="#2a2a2a" stroke-width="0.6"/><line x1="163.87" y1="130.3" x2="163.87" y2="131.9" stroke="#2a2a2a" stroke-width="0.6"/><line x1="45.1" y1="14.1" x2="48.6" y2="14.1" stroke="#2a2a2a" stroke-width="1"/><line x1="165.2" y1="130.3" x2="165.2" y2="133.8" stroke="#2a2a2a" stroke-width="1"/><text x="37.9" y="133.3" font-size="8.2" text-anchor="end" fill="#222">10</text><text x="38.3" y="129.7" font-size="5.8" text-anchor="start" fill="#222">0</text><text x="49.2" y="143.5" font-size="8.2" text-anchor="middle" fill="#222">10</text><text x="53.7" y="140.2" font-size="5.8" text-anchor="start" fill="#222">0</text><text x="37.9" y="104.25" font-size="8.2" text-anchor="end" fill="#222">10</text><text x="38.3" y="100.65" font-size="5.8" text-anchor="start" fill="#222">1</text><text x="78.35" y="143.5" font-size="8.2" text-anchor="middle" fill="#222">10</text><text x="82.85" y="140.2" font-size="5.8" text-anchor="start" fill="#222">1</text><text x="37.9" y="75.2" font-size="8.2" text-anchor="end" fill="#222">10</text><text x="38.3" y="71.6" font-size="5.8" text-anchor="start" fill="#222">2</text><text x="107.5" y="143.5" font-size="8.2" text-anchor="middle" fill="#222">10</text><text x="112" y="140.2" font-size="5.8" text-anchor="start" fill="#222">2</text><text x="37.9" y="46.15" font-size="8.2" text-anchor="end" fill="#222">10</text><text x="38.3" y="42.55" font-size="5.8" text-anchor="start" fill="#222">3</text><text x="136.65" y="143.5" font-size="8.2" text-anchor="middle" fill="#222">10</text><text x="141.15" y="140.2" font-size="5.8" text-anchor="start" fill="#222">3</text><text x="37.9" y="17.1" font-size="8.2" text-anchor="end" fill="#222">10</text><text x="38.3" y="13.5" font-size="5.8" text-anchor="start" fill="#222">4</text><text x="165.8" y="143.5" font-size="8.2" text-anchor="middle" fill="#222">10</text><text x="170.3" y="140.2" font-size="5.8" text-anchor="start" fill="#222">4</text><text transform="translate(21.7,72.25) rotate(-90)" x="0" y="0" font-size="10" text-anchor="middle" fill="#222" stroke="#222" stroke-width="0.3" textLength="43.5" lengthAdjust="spacingAndGlyphs" style="white-space:pre">LinCD41CD48</text><text x="107.1" y="158.6" font-size="11" text-anchor="middle" font-weight="normal" fill="#222" textLength="20.3" lengthAdjust="spacingAndGlyphs" stroke="#222" stroke-width="0.3">CD150</text><path d="M279.0 44.0h1v1h-1zM288.0 49.0h1v1h-1zM291.0 41.0h1v1h-1zM273.0 48.0h1v1h-1zM300.0 44.0h1v1h-1zM303.0 40.0h1v1h-1zM315.0 57.0h1v1h-1zM272.0 47.0h1v1h-1zM291.0 46.0h1v1h-1zM287.0 47.0h1v1h-1zM290.0 44.0h1v1h-1zM284.0 50.0h1v1h-1zM297.0 44.0h1v1h-1zM284.0 54.0h1v1h-1zM297.0 57.0h1v1h-1zM277.0 41.0h1v1h-1zM287.0 43.0h1v1h-1zM279.0 43.0h1v1h-1zM288.0 52.0h1v1h-1zM298.0 42.0h1v1h-1zM307.0 51.0h1v1h-1zM280.0 46.0h1v1h-1zM288.0 41.0h1v1h-1zM308.0 50.0h1v1h-1zM284.0 49.0h1v1h-1zM308.0 55.0h1v1h-1zM280.0 48.0h1v1h-1zM302.0 53.0h1v1h-1zM298.0 48.0h1v1h-1zM291.0 41.0h1v1h-1zM284.0 42.0h1v1h-1zM289.0 55.0h1v1h-1zM268.0 37.0h1v1h-1zM281.0 46.0h1v1h-1zM304.0 48.0h1v1h-1zM281.0 52.0h1v1h-1zM294.0 52.0h1v1h-1zM300.0 47.0h1v1h-1zM294.0 46.0h1v1h-1zM283.0 47.0h1v1h-1zM296.0 44.0h1v1h-1zM282.0 49.0h1v1h-1zM292.0 52.0h1v1h-1zM288.0 44.0h1v1h-1zM298.0 53.0h1v1h-1zM282.0 50.0h1v1h-1zM308.0 51.0h1v1h-1zM280.0 47.0h1v1h-1zM291.0 51.0h1v1h-1zM275.0 46.0h1v1h-1zM299.0 54.0h1v1h-1zM296.0 55.0h1v1h-1zM280.0 52.0h1v1h-1zM294.0 45.0h1v1h-1zM287.0 49.0h1v1h-1zM293.0 55.0h1v1h-1zM293.0 47.0h1v1h-1zM314.0 52.0h1v1h-1zM281.0 51.0h1v1h-1zM287.0 44.0h1v1h-1zM278.0 51.0h1v1h-1zM279.0 46.0h1v1h-1zM286.0 47.0h1v1h-1zM282.0 47.0h1v1h-1zM296.0 55.0h1v1h-1zM288.0 43.0h1v1h-1zM275.0 45.0h1v1h-1zM262.0 48.0h1v1h-1zM291.0 49.0h1v1h-1zM276.0 42.0h1v1h-1zM282.0 50.0h1v1h-1zM285.0 50.0h1v1h-1zM298.0 41.0h1v1h-1zM287.0 54.0h1v1h-1zM285.0 48.0h1v1h-1zM290.0 43.0h1v1h-1zM314.0 53.0h1v1h-1zM298.0 48.0h1v1h-1zM304.0 57.0h1v1h-1zM302.0 56.0h1v1h-1zM297.0 56.0h1v1h-1zM295.0 50.0h1v1h-1zM300.0 47.0h1v1h-1zM262.0 46.0h1v1h-1zM293.0 46.0h1v1h-1zM255.0 43.0h1v1h-1zM249.0 46.0h1v1h-1zM259.0 48.0h1v1h-1zM257.0 47.0h1v1h-1zM264.0 44.0h1v1h-1zM241.0 44.0h1v1h-1zM255.0 44.0h1v1h-1zM262.0 44.0h1v1h-1zM264.0 42.0h1v1h-1zM267.0 46.0h1v1h-1zM253.0 43.0h1v1h-1zM245.0 50.0h1v1h-1zM268.0 47.0h1v1h-1zM254.0 46.0h1v1h-1zM246.0 42.0h1v1h-1zM259.0 47.0h1v1h-1zM259.0 42.0h1v1h-1zM266.0 46.0h1v1h-1zM265.0 45.0h1v1h-1zM255.0 48.0h1v1h-1zM271.0 43.0h1v1h-1zM246.0 48.0h1v1h-1zM261.0 46.0h1v1h-1zM248.0 48.0h1v1h-1zM259.0 46.0h1v1h-1zM261.0 44.0h1v1h-1zM261.0 46.0h1v1h-1zM265.0 46.0h1v1h-1zM264.0 108.0h1v1h-1zM241.0 100.0h1v1h-1zM244.0 104.0h1v1h-1zM226.0 106.0h1v1h-1zM218.0 124.0h1v1h-1zM234.0 102.0h1v1h-1zM233.0 96.0h1v1h-1zM239.0 107.0h1v1h-1zM281.0 119.0h1v1h-1zM296.0 96.0h1v1h-1zM262.0 90.0h1v1h-1zM241.0 99.0h1v1h-1zM296.0 73.0h1v1h-1zM278.0 89.0h1v1h-1zM266.0 85.0h1v1h-1zM276.0 99.0h1v1h-1zM243.0 96.0h1v1h-1zM218.0 75.0h1v1h-1zM291.0 74.0h1v1h-1zM250.0 109.0h1v1h-1zM220.0 124.0h1v1h-1zM234.0 126.0h1v1h-1zM253.0 104.0h1v1h-1zM266.0 75.0h1v1h-1zM259.0 114.0h1v1h-1zM281.0 113.0h1v1h-1zM273.0 77.0h1v1h-1zM251.0 100.0h1v1h-1zM221.0 115.0h1v1h-1zM226.0 103.0h1v1h-1z" fill="#8ea0d8" fill-opacity="0.75"/><rect x="215.6" y="13.9" width="117.9" height="117.3" fill="none" stroke="#2a2a2a" stroke-width="1.1"/><line x1="212.1" y1="131.2" x2="215.6" y2="131.2" stroke="#2a2a2a" stroke-width="1"/><line x1="215.6" y1="131.2" x2="215.6" y2="134.7" stroke="#2a2a2a" stroke-width="1"/><line x1="214" y1="122.37" x2="215.6" y2="122.37" stroke="#2a2a2a" stroke-width="0.6"/><line x1="224.47" y1="131.2" x2="224.47" y2="132.8" stroke="#2a2a2a" stroke-width="0.6"/><line x1="214" y1="117.21" x2="215.6" y2="117.21" stroke="#2a2a2a" stroke-width="0.6"/><line x1="229.66" y1="131.2" x2="229.66" y2="132.8" stroke="#2a2a2a" stroke-width="0.6"/><line x1="214" y1="113.54" x2="215.6" y2="113.54" stroke="#2a2a2a" stroke-width="0.6"/><line x1="233.35" y1="131.2" x2="233.35" y2="132.8" stroke="#2a2a2a" stroke-width="0.6"/><line x1="213.4" y1="110.7" x2="215.6" y2="110.7" stroke="#2a2a2a" stroke-width="0.6"/><line x1="236.2" y1="131.2" x2="236.2" y2="133.4" stroke="#2a2a2a" stroke-width="0.6"/><line x1="214" y1="108.38" x2="215.6" y2="108.38" stroke="#2a2a2a" stroke-width="0.6"/><line x1="238.54" y1="131.2" x2="238.54" y2="132.8" stroke="#2a2a2a" stroke-width="0.6"/><line x1="214" y1="106.42" x2="215.6" y2="106.42" stroke="#2a2a2a" stroke-width="0.6"/><line x1="240.51" y1="131.2" x2="240.51" y2="132.8" stroke="#2a2a2a" stroke-width="0.6"/><line x1="214" y1="104.72" x2="215.6" y2="104.72" stroke="#2a2a2a" stroke-width="0.6"/><line x1="242.22" y1="131.2" x2="242.22" y2="132.8" stroke="#2a2a2a" stroke-width="0.6"/><line x1="214" y1="103.22" x2="215.6" y2="103.22" stroke="#2a2a2a" stroke-width="0.6"/><line x1="243.73" y1="131.2" x2="243.73" y2="132.8" stroke="#2a2a2a" stroke-width="0.6"/><line x1="212.1" y1="101.88" x2="215.6" y2="101.88" stroke="#2a2a2a" stroke-width="1"/><line x1="245.07" y1="131.2" x2="245.07" y2="134.7" stroke="#2a2a2a" stroke-width="1"/><line x1="214" y1="93.05" x2="215.6" y2="93.05" stroke="#2a2a2a" stroke-width="0.6"/><line x1="253.95" y1="131.2" x2="253.95" y2="132.8" stroke="#2a2a2a" stroke-width="0.6"/><line x1="214" y1="87.88" x2="215.6" y2="87.88" stroke="#2a2a2a" stroke-width="0.6"/><line x1="259.14" y1="131.2" x2="259.14" y2="132.8" stroke="#2a2a2a" stroke-width="0.6"/><line x1="214" y1="84.22" x2="215.6" y2="84.22" stroke="#2a2a2a" stroke-width="0.6"/><line x1="262.82" y1="131.2" x2="262.82" y2="132.8" stroke="#2a2a2a" stroke-width="0.6"/><line x1="213.4" y1="81.38" x2="215.6" y2="81.38" stroke="#2a2a2a" stroke-width="0.6"/><line x1="265.68" y1="131.2" x2="265.68" y2="133.4" stroke="#2a2a2a" stroke-width="0.6"/><line x1="214" y1="79.06" x2="215.6" y2="79.06" stroke="#2a2a2a" stroke-width="0.6"/><line x1="268.01" y1="131.2" x2="268.01" y2="132.8" stroke="#2a2a2a" stroke-width="0.6"/><line x1="214" y1="77.09" x2="215.6" y2="77.09" stroke="#2a2a2a" stroke-width="0.6"/><line x1="269.98" y1="131.2" x2="269.98" y2="132.8" stroke="#2a2a2a" stroke-width="0.6"/><line x1="214" y1="75.39" x2="215.6" y2="75.39" stroke="#2a2a2a" stroke-width="0.6"/><line x1="271.69" y1="131.2" x2="271.69" y2="132.8" stroke="#2a2a2a" stroke-width="0.6"/><line x1="214" y1="73.89" x2="215.6" y2="73.89" stroke="#2a2a2a" stroke-width="0.6"/><line x1="273.2" y1="131.2" x2="273.2" y2="132.8" stroke="#2a2a2a" stroke-width="0.6"/><line x1="212.1" y1="72.55" x2="215.6" y2="72.55" stroke="#2a2a2a" stroke-width="1"/><line x1="274.55" y1="131.2" x2="274.55" y2="134.7" stroke="#2a2a2a" stroke-width="1"/><line x1="214" y1="63.72" x2="215.6" y2="63.72" stroke="#2a2a2a" stroke-width="0.6"/><line x1="283.42" y1="131.2" x2="283.42" y2="132.8" stroke="#2a2a2a" stroke-width="0.6"/><line x1="214" y1="58.56" x2="215.6" y2="58.56" stroke="#2a2a2a" stroke-width="0.6"/><line x1="288.61" y1="131.2" x2="288.61" y2="132.8" stroke="#2a2a2a" stroke-width="0.6"/><line x1="214" y1="54.89" x2="215.6" y2="54.89" stroke="#2a2a2a" stroke-width="0.6"/><line x1="292.3" y1="131.2" x2="292.3" y2="132.8" stroke="#2a2a2a" stroke-width="0.6"/><line x1="213.4" y1="52.05" x2="215.6" y2="52.05" stroke="#2a2a2a" stroke-width="0.6"/><line x1="295.15" y1="131.2" x2="295.15" y2="133.4" stroke="#2a2a2a" stroke-width="0.6"/><line x1="214" y1="49.73" x2="215.6" y2="49.73" stroke="#2a2a2a" stroke-width="0.6"/><line x1="297.49" y1="131.2" x2="297.49" y2="132.8" stroke="#2a2a2a" stroke-width="0.6"/><line x1="214" y1="47.77" x2="215.6" y2="47.77" stroke="#2a2a2a" stroke-width="0.6"/><line x1="299.46" y1="131.2" x2="299.46" y2="132.8" stroke="#2a2a2a" stroke-width="0.6"/><line x1="214" y1="46.07" x2="215.6" y2="46.07" stroke="#2a2a2a" stroke-width="0.6"/><line x1="301.17" y1="131.2" x2="301.17" y2="132.8" stroke="#2a2a2a" stroke-width="0.6"/><line x1="214" y1="44.57" x2="215.6" y2="44.57" stroke="#2a2a2a" stroke-width="0.6"/><line x1="302.68" y1="131.2" x2="302.68" y2="132.8" stroke="#2a2a2a" stroke-width="0.6"/><line x1="212.1" y1="43.22" x2="215.6" y2="43.22" stroke="#2a2a2a" stroke-width="1"/><line x1="304.02" y1="131.2" x2="304.02" y2="134.7" stroke="#2a2a2a" stroke-width="1"/><line x1="214" y1="34.4" x2="215.6" y2="34.4" stroke="#2a2a2a" stroke-width="0.6"/><line x1="312.9" y1="131.2" x2="312.9" y2="132.8" stroke="#2a2a2a" stroke-width="0.6"/><line x1="214" y1="29.23" x2="215.6" y2="29.23" stroke="#2a2a2a" stroke-width="0.6"/><line x1="318.09" y1="131.2" x2="318.09" y2="132.8" stroke="#2a2a2a" stroke-width="0.6"/><line x1="214" y1="25.57" x2="215.6" y2="25.57" stroke="#2a2a2a" stroke-width="0.6"/><line x1="321.77" y1="131.2" x2="321.77" y2="132.8" stroke="#2a2a2a" stroke-width="0.6"/><line x1="213.4" y1="22.73" x2="215.6" y2="22.73" stroke="#2a2a2a" stroke-width="0.6"/><line x1="324.63" y1="131.2" x2="324.63" y2="133.4" stroke="#2a2a2a" stroke-width="0.6"/><line x1="214" y1="20.41" x2="215.6" y2="20.41" stroke="#2a2a2a" stroke-width="0.6"/><line x1="326.96" y1="131.2" x2="326.96" y2="132.8" stroke="#2a2a2a" stroke-width="0.6"/><line x1="214" y1="18.44" x2="215.6" y2="18.44" stroke="#2a2a2a" stroke-width="0.6"/><line x1="328.93" y1="131.2" x2="328.93" y2="132.8" stroke="#2a2a2a" stroke-width="0.6"/><line x1="214" y1="16.74" x2="215.6" y2="16.74" stroke="#2a2a2a" stroke-width="0.6"/><line x1="330.64" y1="131.2" x2="330.64" y2="132.8" stroke="#2a2a2a" stroke-width="0.6"/><line x1="214" y1="15.24" x2="215.6" y2="15.24" stroke="#2a2a2a" stroke-width="0.6"/><line x1="332.15" y1="131.2" x2="332.15" y2="132.8" stroke="#2a2a2a" stroke-width="0.6"/><line x1="212.1" y1="13.9" x2="215.6" y2="13.9" stroke="#2a2a2a" stroke-width="1"/><line x1="333.5" y1="131.2" x2="333.5" y2="134.7" stroke="#2a2a2a" stroke-width="1"/><text x="204.9" y="134.2" font-size="8.2" text-anchor="end" fill="#222">10</text><text x="205.3" y="130.6" font-size="5.8" text-anchor="start" fill="#222">0</text><text x="216.2" y="144.4" font-size="8.2" text-anchor="middle" fill="#222">10</text><text x="220.7" y="141.1" font-size="5.8" text-anchor="start" fill="#222">0</text><text x="204.9" y="104.88" font-size="8.2" text-anchor="end" fill="#222">10</text><text x="205.3" y="101.28" font-size="5.8" text-anchor="start" fill="#222">1</text><text x="245.67" y="144.4" font-size="8.2" text-anchor="middle" fill="#222">10</text><text x="250.17" y="141.1" font-size="5.8" text-anchor="start" fill="#222">1</text><text x="204.9" y="75.55" font-size="8.2" text-anchor="end" fill="#222">10</text><text x="205.3" y="71.95" font-size="5.8" text-anchor="start" fill="#222">2</text><text x="275.15" y="144.4" font-size="8.2" text-anchor="middle" fill="#222">10</text><text x="279.65" y="141.1" font-size="5.8" text-anchor="start" fill="#222">2</text><text x="204.9" y="46.22" font-size="8.2" text-anchor="end" fill="#222">10</text><text x="205.3" y="42.62" font-size="5.8" text-anchor="start" fill="#222">3</text><text x="304.62" y="144.4" font-size="8.2" text-anchor="middle" fill="#222">10</text><text x="309.12" y="141.1" font-size="5.8" text-anchor="start" fill="#222">3</text><text x="204.9" y="16.9" font-size="8.2" text-anchor="end" fill="#222">10</text><text x="205.3" y="13.3" font-size="5.8" text-anchor="start" fill="#222">4</text><text x="334.1" y="144.4" font-size="8.2" text-anchor="middle" fill="#222">10</text><text x="338.6" y="141.1" font-size="5.8" text-anchor="start" fill="#222">4</text><rect x="269.4" y="35.6" width="43.7" height="29.8" fill="none" stroke="#561c6c" stroke-width="1.5"/><text x="291.5" y="31.7" font-size="9.3" text-anchor="middle" font-weight="normal" fill="#222">HSC</text><text transform="translate(189.8,72.6) rotate(-90)" x="0" y="0" font-size="9.6" text-anchor="middle" fill="#222" stroke="#222" stroke-width="0.3" textLength="14.4" lengthAdjust="spacingAndGlyphs" style="white-space:pre">c-Kit</text><text x="274.1" y="159.2" font-size="11" text-anchor="middle" font-weight="normal" fill="#222" textLength="14.6" lengthAdjust="spacingAndGlyphs" stroke="#222" stroke-width="0.3">Sca1</text><g clip-path="url(#cp3)"><path d="M489.0 32.0h1v1h-1zM396.0 33.0h1v1h-1zM391.0 35.0h1v1h-1zM398.0 36.0h1v1h-1zM400.0 37.0h1v1h-1zM403.0 37.0h1v1h-1zM418.0 38.0h1v1h-1zM422.0 39.0h1v1h-1zM387.0 40.0h1v1h-1zM399.0 40.0h1v1h-1zM417.0 40.0h1v1h-1zM444.0 41.0h1v1h-1zM395.0 42.0h1v1h-1zM411.0 43.0h1v1h-1zM389.0 44.0h1v1h-1zM396.0 44.0h1v1h-1zM407.0 44.0h1v1h-1zM399.0 45.0h1v1h-1zM423.0 47.0h1v1h-1zM391.0 48.0h1v1h-1zM444.0 48.0h1v1h-1zM389.0 49.0h1v1h-1zM397.0 49.0h1v1h-1zM417.0 49.0h1v1h-1zM394.0 50.0h1v1h-1zM400.0 50.0h1v1h-1zM402.0 50.0h1v1h-1zM453.0 50.0h1v1h-1zM404.0 51.0h1v1h-1zM386.0 52.0h1v1h-1zM387.0 52.0h1v1h-1zM403.0 52.0h1v1h-1zM405.0 52.0h1v1h-1zM399.0 53.0h1v1h-1zM409.0 53.0h1v1h-1zM441.0 53.0h1v1h-1zM388.0 54.0h1v1h-1zM402.0 54.0h1v1h-1zM404.0 54.0h1v1h-1zM405.0 54.0h1v1h-1zM412.0 54.0h1v1h-1zM431.0 54.0h1v1h-1zM491.0 54.0h1v1h-1zM389.0 55.0h1v1h-1zM396.0 55.0h1v1h-1zM398.0 55.0h1v1h-1zM496.0 55.0h1v1h-1zM403.0 56.0h1v1h-1zM433.0 56.0h1v1h-1zM457.0 56.0h1v1h-1zM389.0 57.0h1v1h-1zM393.0 57.0h1v1h-1zM401.0 57.0h1v1h-1zM408.0 57.0h1v1h-1zM410.0 57.0h1v1h-1zM412.0 57.0h1v1h-1zM392.0 58.0h1v1h-1zM405.0 58.0h1v1h-1zM406.0 58.0h1v1h-1zM399.0 59.0h1v1h-1zM416.0 59.0h1v1h-1zM468.0 59.0h1v1h-1zM389.0 60.0h1v1h-1zM390.0 60.0h1v1h-1zM393.0 60.0h1v1h-1zM405.0 60.0h1v1h-1zM412.0 60.0h1v1h-1zM416.0 60.0h1v1h-1zM417.0 60.0h1v1h-1zM392.0 61.0h1v1h-1zM397.0 61.0h1v1h-1zM398.0 61.0h1v1h-1zM415.0 61.0h1v1h-1zM422.0 61.0h1v1h-1zM439.0 61.0h1v1h-1zM386.0 62.0h1v1h-1zM400.0 62.0h1v1h-1zM403.0 62.0h1v1h-1zM404.0 62.0h1v1h-1zM407.0 62.0h1v1h-1zM417.0 62.0h1v1h-1zM428.0 62.0h1v1h-1zM501.0 62.0h1v1h-1zM388.0 63.0h1v1h-1zM398.0 63.0h1v1h-1zM399.0 63.0h1v1h-1zM401.0 63.0h1v1h-1zM412.0 63.0h1v1h-1zM437.0 63.0h1v1h-1zM465.0 63.0h1v1h-1zM393.0 64.0h1v1h-1zM400.0 64.0h1v1h-1zM402.0 64.0h1v1h-1zM443.0 64.0h1v1h-1zM386.0 65.0h1v1h-1zM398.0 65.0h1v1h-1zM399.0 65.0h1v1h-1zM400.0 65.0h1v1h-1zM407.0 65.0h1v1h-1zM408.0 65.0h1v1h-1zM416.0 65.0h1v1h-1zM470.0 65.0h1v1h-1zM386.0 66.0h1v1h-1zM390.0 66.0h1v1h-1zM391.0 66.0h1v1h-1zM400.0 66.0h1v1h-1zM403.0 66.0h1v1h-1zM408.0 66.0h1v1h-1zM409.0 66.0h1v1h-1zM495.0 66.0h1v1h-1zM389.0 67.0h1v1h-1zM394.0 67.0h1v1h-1zM401.0 67.0h1v1h-1zM402.0 67.0h1v1h-1zM404.0 67.0h1v1h-1zM412.0 67.0h1v1h-1zM418.0 67.0h1v1h-1zM389.0 68.0h1v1h-1zM394.0 68.0h1v1h-1zM395.0 68.0h1v1h-1zM406.0 68.0h1v1h-1zM408.0 68.0h1v1h-1zM411.0 68.0h1v1h-1zM414.0 68.0h1v1h-1zM385.0 69.0h1v1h-1zM392.0 69.0h1v1h-1zM396.0 69.0h1v1h-1zM397.0 69.0h1v1h-1zM401.0 69.0h1v1h-1zM402.0 69.0h1v1h-1zM405.0 69.0h1v1h-1zM408.0 69.0h1v1h-1zM413.0 69.0h1v1h-1zM420.0 69.0h1v1h-1zM448.0 69.0h1v1h-1zM390.0 70.0h1v1h-1zM391.0 70.0h1v1h-1zM394.0 70.0h1v1h-1zM396.0 70.0h1v1h-1zM397.0 70.0h1v1h-1zM409.0 70.0h1v1h-1zM431.0 70.0h1v1h-1zM471.0 70.0h1v1h-1zM390.0 71.0h1v1h-1zM392.0 71.0h1v1h-1zM399.0 71.0h1v1h-1zM400.0 71.0h1v1h-1zM401.0 71.0h1v1h-1zM402.0 71.0h1v1h-1zM403.0 71.0h1v1h-1zM405.0 71.0h1v1h-1zM408.0 71.0h1v1h-1zM409.0 71.0h1v1h-1zM415.0 71.0h1v1h-1zM430.0 71.0h1v1h-1zM385.0 72.0h1v1h-1zM390.0 72.0h1v1h-1zM392.0 72.0h1v1h-1zM394.0 72.0h1v1h-1zM395.0 72.0h1v1h-1zM399.0 72.0h1v1h-1zM402.0 72.0h1v1h-1zM403.0 72.0h1v1h-1zM405.0 72.0h1v1h-1zM406.0 72.0h1v1h-1zM408.0 72.0h1v1h-1zM413.0 72.0h1v1h-1zM414.0 72.0h1v1h-1zM416.0 72.0h1v1h-1zM426.0 72.0h1v1h-1zM440.0 72.0h1v1h-1zM446.0 72.0h1v1h-1zM387.0 73.0h1v1h-1zM389.0 73.0h1v1h-1zM393.0 73.0h1v1h-1zM396.0 73.0h1v1h-1zM397.0 73.0h1v1h-1zM401.0 73.0h1v1h-1zM408.0 73.0h1v1h-1zM412.0 73.0h1v1h-1zM414.0 73.0h1v1h-1zM428.0 73.0h1v1h-1zM431.0 73.0h1v1h-1zM393.0 74.0h1v1h-1zM396.0 74.0h1v1h-1zM397.0 74.0h1v1h-1zM398.0 74.0h1v1h-1zM400.0 74.0h1v1h-1zM401.0 74.0h1v1h-1zM402.0 74.0h1v1h-1zM403.0 74.0h1v1h-1zM404.0 74.0h1v1h-1zM405.0 74.0h1v1h-1zM406.0 74.0h1v1h-1zM407.0 74.0h1v1h-1zM415.0 74.0h1v1h-1zM388.0 75.0h1v1h-1zM391.0 75.0h1v1h-1zM392.0 75.0h1v1h-1zM394.0 75.0h1v1h-1zM396.0 75.0h1v1h-1zM398.0 75.0h1v1h-1zM399.0 75.0h1v1h-1zM400.0 75.0h1v1h-1zM401.0 75.0h1v1h-1zM402.0 75.0h1v1h-1zM403.0 75.0h1v1h-1zM405.0 75.0h1v1h-1zM406.0 75.0h1v1h-1zM407.0 75.0h1v1h-1zM408.0 75.0h1v1h-1zM416.0 75.0h1v1h-1zM423.0 75.0h1v1h-1zM386.0 76.0h1v1h-1zM387.0 76.0h1v1h-1zM392.0 76.0h1v1h-1zM393.0 76.0h1v1h-1zM394.0 76.0h1v1h-1zM395.0 76.0h1v1h-1zM396.0 76.0h1v1h-1zM399.0 76.0h1v1h-1zM400.0 76.0h1v1h-1zM401.0 76.0h1v1h-1zM402.0 76.0h1v1h-1zM403.0 76.0h1v1h-1zM404.0 76.0h1v1h-1zM405.0 76.0h1v1h-1zM406.0 76.0h1v1h-1zM407.0 76.0h1v1h-1zM408.0 76.0h1v1h-1zM411.0 76.0h1v1h-1zM425.0 76.0h1v1h-1zM388.0 77.0h1v1h-1zM389.0 77.0h1v1h-1zM392.0 77.0h1v1h-1zM395.0 77.0h1v1h-1zM396.0 77.0h1v1h-1zM398.0 77.0h1v1h-1zM399.0 77.0h1v1h-1zM400.0 77.0h1v1h-1zM401.0 77.0h1v1h-1zM402.0 77.0h1v1h-1zM403.0 77.0h1v1h-1zM405.0 77.0h1v1h-1zM406.0 77.0h1v1h-1zM407.0 77.0h1v1h-1zM408.0 77.0h1v1h-1zM410.0 77.0h1v1h-1zM411.0 77.0h1v1h-1zM415.0 77.0h1v1h-1zM416.0 77.0h1v1h-1zM417.0 77.0h1v1h-1zM386.0 78.0h1v1h-1zM391.0 78.0h1v1h-1zM392.0 78.0h1v1h-1zM393.0 78.0h1v1h-1zM395.0 78.0h1v1h-1zM399.0 78.0h1v1h-1zM400.0 78.0h1v1h-1zM401.0 78.0h1v1h-1zM403.0 78.0h1v1h-1zM404.0 78.0h1v1h-1zM405.0 78.0h1v1h-1zM406.0 78.0h1v1h-1zM408.0 78.0h1v1h-1zM411.0 78.0h1v1h-1zM412.0 78.0h1v1h-1zM420.0 78.0h1v1h-1zM389.0 79.0h1v1h-1zM391.0 79.0h1v1h-1zM392.0 79.0h1v1h-1zM393.0 79.0h1v1h-1zM395.0 79.0h1v1h-1zM398.0 79.0h1v1h-1zM399.0 79.0h1v1h-1zM401.0 79.0h1v1h-1zM403.0 79.0h1v1h-1zM406.0 79.0h1v1h-1zM407.0 79.0h1v1h-1zM408.0 79.0h1v1h-1zM409.0 79.0h1v1h-1zM412.0 79.0h1v1h-1zM413.0 79.0h1v1h-1zM421.0 79.0h1v1h-1zM434.0 79.0h1v1h-1zM387.0 80.0h1v1h-1zM389.0 80.0h1v1h-1zM391.0 80.0h1v1h-1zM392.0 80.0h1v1h-1zM393.0 80.0h1v1h-1zM396.0 80.0h1v1h-1zM398.0 80.0h1v1h-1zM399.0 80.0h1v1h-1zM402.0 80.0h1v1h-1zM405.0 80.0h1v1h-1zM406.0 80.0h1v1h-1zM408.0 80.0h1v1h-1zM409.0 80.0h1v1h-1zM411.0 80.0h1v1h-1zM428.0 80.0h1v1h-1zM387.0 81.0h1v1h-1zM390.0 81.0h1v1h-1zM393.0 81.0h1v1h-1zM396.0 81.0h1v1h-1zM398.0 81.0h1v1h-1zM399.0 81.0h1v1h-1zM400.0 81.0h1v1h-1zM401.0 81.0h1v1h-1zM402.0 81.0h1v1h-1zM405.0 81.0h1v1h-1zM407.0 81.0h1v1h-1zM408.0 81.0h1v1h-1zM409.0 81.0h1v1h-1zM410.0 81.0h1v1h-1zM416.0 81.0h1v1h-1zM427.0 81.0h1v1h-1zM387.0 82.0h1v1h-1zM392.0 82.0h1v1h-1zM393.0 82.0h1v1h-1zM396.0 82.0h1v1h-1zM397.0 82.0h1v1h-1zM399.0 82.0h1v1h-1zM401.0 82.0h1v1h-1zM408.0 82.0h1v1h-1zM409.0 82.0h1v1h-1zM411.0 82.0h1v1h-1zM412.0 82.0h1v1h-1zM413.0 82.0h1v1h-1zM428.0 82.0h1v1h-1zM470.0 82.0h1v1h-1zM386.0 83.0h1v1h-1zM389.0 83.0h1v1h-1zM392.0 83.0h1v1h-1zM395.0 83.0h1v1h-1zM396.0 83.0h1v1h-1zM397.0 83.0h1v1h-1zM399.0 83.0h1v1h-1zM402.0 83.0h1v1h-1zM403.0 83.0h1v1h-1zM404.0 83.0h1v1h-1zM411.0 83.0h1v1h-1zM415.0 83.0h1v1h-1zM427.0 83.0h1v1h-1zM432.0 83.0h1v1h-1zM387.0 84.0h1v1h-1zM390.0 84.0h1v1h-1zM395.0 84.0h1v1h-1zM398.0 84.0h1v1h-1zM399.0 84.0h1v1h-1zM400.0 84.0h1v1h-1zM401.0 84.0h1v1h-1zM402.0 84.0h1v1h-1zM403.0 84.0h1v1h-1zM405.0 84.0h1v1h-1zM406.0 84.0h1v1h-1zM407.0 84.0h1v1h-1zM409.0 84.0h1v1h-1zM410.0 84.0h1v1h-1zM411.0 84.0h1v1h-1zM414.0 84.0h1v1h-1zM415.0 84.0h1v1h-1zM416.0 84.0h1v1h-1zM418.0 84.0h1v1h-1zM427.0 84.0h1v1h-1zM386.0 85.0h1v1h-1zM389.0 85.0h1v1h-1zM392.0 85.0h1v1h-1zM393.0 85.0h1v1h-1zM395.0 85.0h1v1h-1zM396.0 85.0h1v1h-1zM398.0 85.0h1v1h-1zM399.0 85.0h1v1h-1zM400.0 85.0h1v1h-1zM402.0 85.0h1v1h-1zM404.0 85.0h1v1h-1zM406.0 85.0h1v1h-1zM409.0 85.0h1v1h-1zM417.0 85.0h1v1h-1zM422.0 85.0h1v1h-1zM425.0 85.0h1v1h-1zM435.0 85.0h1v1h-1zM387.0 86.0h1v1h-1zM389.0 86.0h1v1h-1zM392.0 86.0h1v1h-1zM395.0 86.0h1v1h-1zM396.0 86.0h1v1h-1zM397.0 86.0h1v1h-1zM398.0 86.0h1v1h-1zM399.0 86.0h1v1h-1zM400.0 86.0h1v1h-1zM403.0 86.0h1v1h-1zM405.0 86.0h1v1h-1zM406.0 86.0h1v1h-1zM407.0 86.0h1v1h-1zM408.0 86.0h1v1h-1zM410.0 86.0h1v1h-1zM411.0 86.0h1v1h-1zM413.0 86.0h1v1h-1zM415.0 86.0h1v1h-1zM417.0 86.0h1v1h-1zM420.0 86.0h1v1h-1zM421.0 86.0h1v1h-1zM431.0 86.0h1v1h-1zM385.0 87.0h1v1h-1zM388.0 87.0h1v1h-1zM390.0 87.0h1v1h-1zM391.0 87.0h1v1h-1zM392.0 87.0h1v1h-1zM394.0 87.0h1v1h-1zM396.0 87.0h1v1h-1zM397.0 87.0h1v1h-1zM398.0 87.0h1v1h-1zM399.0 87.0h1v1h-1zM401.0 87.0h1v1h-1zM402.0 87.0h1v1h-1zM403.0 87.0h1v1h-1zM404.0 87.0h1v1h-1zM405.0 87.0h1v1h-1zM410.0 87.0h1v1h-1zM411.0 87.0h1v1h-1zM413.0 87.0h1v1h-1zM415.0 87.0h1v1h-1zM418.0 87.0h1v1h-1zM386.0 88.0h1v1h-1zM387.0 88.0h1v1h-1zM394.0 88.0h1v1h-1zM395.0 88.0h1v1h-1zM396.0 88.0h1v1h-1zM398.0 88.0h1v1h-1zM400.0 88.0h1v1h-1zM401.0 88.0h1v1h-1zM402.0 88.0h1v1h-1zM403.0 88.0h1v1h-1zM404.0 88.0h1v1h-1zM406.0 88.0h1v1h-1zM407.0 88.0h1v1h-1zM408.0 88.0h1v1h-1zM409.0 88.0h1v1h-1zM410.0 88.0h1v1h-1zM411.0 88.0h1v1h-1zM412.0 88.0h1v1h-1zM413.0 88.0h1v1h-1zM415.0 88.0h1v1h-1zM416.0 88.0h1v1h-1zM438.0 88.0h1v1h-1zM385.0 89.0h1v1h-1zM388.0 89.0h1v1h-1zM390.0 89.0h1v1h-1zM391.0 89.0h1v1h-1zM393.0 89.0h1v1h-1zM394.0 89.0h1v1h-1zM395.0 89.0h1v1h-1zM397.0 89.0h1v1h-1zM398.0 89.0h1v1h-1zM399.0 89.0h1v1h-1zM400.0 89.0h1v1h-1zM401.0 89.0h1v1h-1zM402.0 89.0h1v1h-1zM404.0 89.0h1v1h-1zM406.0 89.0h1v1h-1zM407.0 89.0h1v1h-1zM409.0 89.0h1v1h-1zM411.0 89.0h1v1h-1zM416.0 89.0h1v1h-1zM418.0 89.0h1v1h-1zM419.0 89.0h1v1h-1zM421.0 89.0h1v1h-1zM479.0 89.0h1v1h-1zM387.0 90.0h1v1h-1zM388.0 90.0h1v1h-1zM389.0 90.0h1v1h-1zM390.0 90.0h1v1h-1zM395.0 90.0h1v1h-1zM396.0 90.0h1v1h-1zM398.0 90.0h1v1h-1zM399.0 90.0h1v1h-1zM401.0 90.0h1v1h-1zM402.0 90.0h1v1h-1zM403.0 90.0h1v1h-1zM404.0 90.0h1v1h-1zM406.0 90.0h1v1h-1zM407.0 90.0h1v1h-1zM410.0 90.0h1v1h-1zM411.0 90.0h1v1h-1zM412.0 90.0h1v1h-1zM413.0 90.0h1v1h-1zM419.0 90.0h1v1h-1zM422.0 90.0h1v1h-1zM437.0 90.0h1v1h-1zM447.0 90.0h1v1h-1zM389.0 91.0h1v1h-1zM391.0 91.0h1v1h-1zM392.0 91.0h1v1h-1zM394.0 91.0h1v1h-1zM396.0 91.0h1v1h-1zM397.0 91.0h1v1h-1zM400.0 91.0h1v1h-1zM402.0 91.0h1v1h-1zM403.0 91.0h1v1h-1zM404.0 91.0h1v1h-1zM405.0 91.0h1v1h-1zM406.0 91.0h1v1h-1zM407.0 91.0h1v1h-1zM412.0 91.0h1v1h-1zM427.0 91.0h1v1h-1zM385.0 92.0h1v1h-1zM387.0 92.0h1v1h-1zM389.0 92.0h1v1h-1zM390.0 92.0h1v1h-1zM394.0 92.0h1v1h-1zM395.0 92.0h1v1h-1zM396.0 92.0h1v1h-1zM397.0 92.0h1v1h-1zM398.0 92.0h1v1h-1zM399.0 92.0h1v1h-1zM401.0 92.0h1v1h-1zM403.0 92.0h1v1h-1zM404.0 92.0h1v1h-1zM406.0 92.0h1v1h-1zM408.0 92.0h1v1h-1zM409.0 92.0h1v1h-1zM410.0 92.0h1v1h-1zM412.0 92.0h1v1h-1zM414.0 92.0h1v1h-1zM418.0 92.0h1v1h-1zM423.0 92.0h1v1h-1zM436.0 92.0h1v1h-1zM389.0 93.0h1v1h-1zM391.0 93.0h1v1h-1zM392.0 93.0h1v1h-1zM393.0 93.0h1v1h-1zM395.0 93.0h1v1h-1zM396.0 93.0h1v1h-1zM397.0 93.0h1v1h-1zM400.0 93.0h1v1h-1zM401.0 93.0h1v1h-1zM402.0 93.0h1v1h-1zM403.0 93.0h1v1h-1zM405.0 93.0h1v1h-1zM407.0 93.0h1v1h-1zM409.0 93.0h1v1h-1zM412.0 93.0h1v1h-1zM414.0 93.0h1v1h-1zM416.0 93.0h1v1h-1zM418.0 93.0h1v1h-1zM489.0 93.0h1v1h-1zM389.0 94.0h1v1h-1zM390.0 94.0h1v1h-1zM394.0 94.0h1v1h-1zM396.0 94.0h1v1h-1zM397.0 94.0h1v1h-1zM398.0 94.0h1v1h-1zM400.0 94.0h1v1h-1zM401.0 94.0h1v1h-1zM402.0 94.0h1v1h-1zM403.0 94.0h1v1h-1zM404.0 94.0h1v1h-1zM405.0 94.0h1v1h-1zM408.0 94.0h1v1h-1zM410.0 94.0h1v1h-1zM413.0 94.0h1v1h-1zM414.0 94.0h1v1h-1zM415.0 94.0h1v1h-1zM426.0 94.0h1v1h-1zM428.0 94.0h1v1h-1zM386.0 95.0h1v1h-1zM387.0 95.0h1v1h-1zM393.0 95.0h1v1h-1zM395.0 95.0h1v1h-1zM398.0 95.0h1v1h-1zM400.0 95.0h1v1h-1zM401.0 95.0h1v1h-1zM402.0 95.0h1v1h-1zM403.0 95.0h1v1h-1zM404.0 95.0h1v1h-1zM405.0 95.0h1v1h-1zM407.0 95.0h1v1h-1zM412.0 95.0h1v1h-1zM413.0 95.0h1v1h-1zM416.0 95.0h1v1h-1zM418.0 95.0h1v1h-1zM419.0 95.0h1v1h-1zM423.0 95.0h1v1h-1zM429.0 95.0h1v1h-1zM463.0 95.0h1v1h-1zM391.0 96.0h1v1h-1zM392.0 96.0h1v1h-1zM393.0 96.0h1v1h-1zM394.0 96.0h1v1h-1zM395.0 96.0h1v1h-1zM397.0 96.0h1v1h-1zM398.0 96.0h1v1h-1zM399.0 96.0h1v1h-1zM400.0 96.0h1v1h-1zM401.0 96.0h1v1h-1zM402.0 96.0h1v1h-1zM403.0 96.0h1v1h-1zM404.0 96.0h1v1h-1zM406.0 96.0h1v1h-1zM408.0 96.0h1v1h-1zM414.0 96.0h1v1h-1zM415.0 96.0h1v1h-1zM420.0 96.0h1v1h-1zM423.0 96.0h1v1h-1zM446.0 96.0h1v1h-1zM388.0 97.0h1v1h-1zM390.0 97.0h1v1h-1zM395.0 97.0h1v1h-1zM396.0 97.0h1v1h-1zM398.0 97.0h1v1h-1zM399.0 97.0h1v1h-1zM400.0 97.0h1v1h-1zM403.0 97.0h1v1h-1zM404.0 97.0h1v1h-1zM406.0 97.0h1v1h-1zM407.0 97.0h1v1h-1zM408.0 97.0h1v1h-1zM409.0 97.0h1v1h-1zM410.0 97.0h1v1h-1zM411.0 97.0h1v1h-1zM413.0 97.0h1v1h-1zM415.0 97.0h1v1h-1zM420.0 97.0h1v1h-1zM426.0 97.0h1v1h-1zM386.0 98.0h1v1h-1zM389.0 98.0h1v1h-1zM395.0 98.0h1v1h-1zM396.0 98.0h1v1h-1zM398.0 98.0h1v1h-1zM399.0 98.0h1v1h-1zM400.0 98.0h1v1h-1zM401.0 98.0h1v1h-1zM403.0 98.0h1v1h-1zM404.0 98.0h1v1h-1zM407.0 98.0h1v1h-1zM408.0 98.0h1v1h-1zM409.0 98.0h1v1h-1zM412.0 98.0h1v1h-1zM413.0 98.0h1v1h-1zM414.0 98.0h1v1h-1zM424.0 98.0h1v1h-1zM440.0 98.0h1v1h-1zM386.0 99.0h1v1h-1zM387.0 99.0h1v1h-1zM398.0 99.0h1v1h-1zM400.0 99.0h1v1h-1zM402.0 99.0h1v1h-1zM404.0 99.0h1v1h-1zM405.0 99.0h1v1h-1zM406.0 99.0h1v1h-1zM409.0 99.0h1v1h-1zM411.0 99.0h1v1h-1zM414.0 99.0h1v1h-1zM415.0 99.0h1v1h-1zM430.0 99.0h1v1h-1zM439.0 99.0h1v1h-1zM385.0 100.0h1v1h-1zM388.0 100.0h1v1h-1zM390.0 100.0h1v1h-1zM391.0 100.0h1v1h-1zM394.0 100.0h1v1h-1zM397.0 100.0h1v1h-1zM398.0 100.0h1v1h-1zM399.0 100.0h1v1h-1zM400.0 100.0h1v1h-1zM401.0 100.0h1v1h-1zM403.0 100.0h1v1h-1zM405.0 100.0h1v1h-1zM408.0 100.0h1v1h-1zM411.0 100.0h1v1h-1zM414.0 100.0h1v1h-1zM386.0 101.0h1v1h-1zM390.0 101.0h1v1h-1zM391.0 101.0h1v1h-1zM394.0 101.0h1v1h-1zM396.0 101.0h1v1h-1zM398.0 101.0h1v1h-1zM399.0 101.0h1v1h-1zM401.0 101.0h1v1h-1zM402.0 101.0h1v1h-1zM403.0 101.0h1v1h-1zM405.0 101.0h1v1h-1zM409.0 101.0h1v1h-1zM411.0 101.0h1v1h-1zM414.0 101.0h1v1h-1zM415.0 101.0h1v1h-1zM417.0 101.0h1v1h-1zM420.0 101.0h1v1h-1zM465.0 101.0h1v1h-1zM395.0 102.0h1v1h-1zM397.0 102.0h1v1h-1zM398.0 102.0h1v1h-1zM399.0 102.0h1v1h-1zM401.0 102.0h1v1h-1zM402.0 102.0h1v1h-1zM403.0 102.0h1v1h-1zM404.0 102.0h1v1h-1zM406.0 102.0h1v1h-1zM409.0 102.0h1v1h-1zM413.0 102.0h1v1h-1zM387.0 103.0h1v1h-1zM391.0 103.0h1v1h-1zM393.0 103.0h1v1h-1zM395.0 103.0h1v1h-1zM397.0 103.0h1v1h-1zM398.0 103.0h1v1h-1zM399.0 103.0h1v1h-1zM400.0 103.0h1v1h-1zM401.0 103.0h1v1h-1zM403.0 103.0h1v1h-1zM405.0 103.0h1v1h-1zM410.0 103.0h1v1h-1zM434.0 103.0h1v1h-1zM448.0 103.0h1v1h-1zM385.0 104.0h1v1h-1zM393.0 104.0h1v1h-1zM396.0 104.0h1v1h-1zM398.0 104.0h1v1h-1zM399.0 104.0h1v1h-1zM401.0 104.0h1v1h-1zM403.0 104.0h1v1h-1zM404.0 104.0h1v1h-1zM405.0 104.0h1v1h-1zM406.0 104.0h1v1h-1zM413.0 104.0h1v1h-1zM414.0 104.0h1v1h-1zM424.0 104.0h1v1h-1zM385.0 105.0h1v1h-1zM388.0 105.0h1v1h-1zM390.0 105.0h1v1h-1zM395.0 105.0h1v1h-1zM397.0 105.0h1v1h-1zM398.0 105.0h1v1h-1zM399.0 105.0h1v1h-1zM400.0 105.0h1v1h-1zM404.0 105.0h1v1h-1zM405.0 105.0h1v1h-1zM409.0 105.0h1v1h-1zM412.0 105.0h1v1h-1zM446.0 105.0h1v1h-1zM385.0 106.0h1v1h-1zM390.0 106.0h1v1h-1zM394.0 106.0h1v1h-1zM396.0 106.0h1v1h-1zM398.0 106.0h1v1h-1zM399.0 106.0h1v1h-1zM403.0 106.0h1v1h-1zM404.0 106.0h1v1h-1zM407.0 106.0h1v1h-1zM411.0 106.0h1v1h-1zM414.0 106.0h1v1h-1zM423.0 106.0h1v1h-1zM438.0 106.0h1v1h-1zM386.0 107.0h1v1h-1zM387.0 107.0h1v1h-1zM396.0 107.0h1v1h-1zM399.0 107.0h1v1h-1zM400.0 107.0h1v1h-1zM401.0 107.0h1v1h-1zM403.0 107.0h1v1h-1zM408.0 107.0h1v1h-1zM411.0 107.0h1v1h-1zM454.0 107.0h1v1h-1zM463.0 107.0h1v1h-1zM388.0 108.0h1v1h-1zM394.0 108.0h1v1h-1zM397.0 108.0h1v1h-1zM404.0 108.0h1v1h-1zM405.0 108.0h1v1h-1zM406.0 108.0h1v1h-1zM408.0 108.0h1v1h-1zM414.0 108.0h1v1h-1zM416.0 108.0h1v1h-1zM394.0 109.0h1v1h-1zM402.0 109.0h1v1h-1zM403.0 109.0h1v1h-1zM406.0 109.0h1v1h-1zM408.0 109.0h1v1h-1zM411.0 109.0h1v1h-1zM414.0 109.0h1v1h-1zM418.0 109.0h1v1h-1zM423.0 109.0h1v1h-1zM424.0 109.0h1v1h-1zM388.0 110.0h1v1h-1zM397.0 110.0h1v1h-1zM398.0 110.0h1v1h-1zM405.0 110.0h1v1h-1zM408.0 110.0h1v1h-1zM413.0 110.0h1v1h-1zM419.0 110.0h1v1h-1zM426.0 110.0h1v1h-1zM391.0 111.0h1v1h-1zM393.0 111.0h1v1h-1zM395.0 111.0h1v1h-1zM397.0 111.0h1v1h-1zM399.0 111.0h1v1h-1zM400.0 111.0h1v1h-1zM401.0 111.0h1v1h-1zM405.0 111.0h1v1h-1zM422.0 111.0h1v1h-1zM386.0 112.0h1v1h-1zM390.0 112.0h1v1h-1zM394.0 112.0h1v1h-1zM395.0 112.0h1v1h-1zM403.0 112.0h1v1h-1zM406.0 112.0h1v1h-1zM409.0 112.0h1v1h-1zM411.0 112.0h1v1h-1zM415.0 112.0h1v1h-1zM423.0 112.0h1v1h-1zM428.0 112.0h1v1h-1zM445.0 112.0h1v1h-1zM495.0 112.0h1v1h-1zM390.0 113.0h1v1h-1zM392.0 113.0h1v1h-1zM393.0 113.0h1v1h-1zM396.0 113.0h1v1h-1zM401.0 113.0h1v1h-1zM406.0 113.0h1v1h-1zM415.0 113.0h1v1h-1zM419.0 113.0h1v1h-1zM437.0 113.0h1v1h-1zM390.0 114.0h1v1h-1zM399.0 114.0h1v1h-1zM401.0 114.0h1v1h-1zM402.0 114.0h1v1h-1zM409.0 114.0h1v1h-1zM412.0 114.0h1v1h-1zM447.0 114.0h1v1h-1zM394.0 115.0h1v1h-1zM395.0 115.0h1v1h-1zM401.0 115.0h1v1h-1zM407.0 115.0h1v1h-1zM410.0 115.0h1v1h-1zM412.0 115.0h1v1h-1zM432.0 115.0h1v1h-1zM404.0 116.0h1v1h-1zM405.0 116.0h1v1h-1zM414.0 116.0h1v1h-1zM419.0 116.0h1v1h-1zM397.0 117.0h1v1h-1zM398.0 117.0h1v1h-1zM410.0 117.0h1v1h-1zM413.0 117.0h1v1h-1zM414.0 117.0h1v1h-1zM392.0 118.0h1v1h-1zM397.0 118.0h1v1h-1zM400.0 118.0h1v1h-1zM401.0 118.0h1v1h-1zM403.0 118.0h1v1h-1zM406.0 118.0h1v1h-1zM407.0 118.0h1v1h-1zM426.0 118.0h1v1h-1zM390.0 119.0h1v1h-1zM401.0 119.0h1v1h-1zM405.0 119.0h1v1h-1zM409.0 119.0h1v1h-1zM410.0 119.0h1v1h-1zM442.0 119.0h1v1h-1zM498.0 119.0h1v1h-1zM391.0 120.0h1v1h-1zM396.0 120.0h1v1h-1zM407.0 120.0h1v1h-1zM416.0 120.0h1v1h-1zM423.0 120.0h1v1h-1zM473.0 120.0h1v1h-1zM388.0 121.0h1v1h-1zM391.0 121.0h1v1h-1zM398.0 121.0h1v1h-1zM403.0 121.0h1v1h-1zM406.0 121.0h1v1h-1zM410.0 121.0h1v1h-1zM387.0 122.0h1v1h-1zM396.0 122.0h1v1h-1zM399.0 122.0h1v1h-1zM401.0 122.0h1v1h-1zM402.0 122.0h1v1h-1zM403.0 122.0h1v1h-1zM415.0 122.0h1v1h-1zM431.0 122.0h1v1h-1zM387.0 123.0h1v1h-1zM392.0 123.0h1v1h-1zM393.0 123.0h1v1h-1zM396.0 123.0h1v1h-1zM397.0 123.0h1v1h-1zM412.0 123.0h1v1h-1zM390.0 124.0h1v1h-1zM399.0 124.0h1v1h-1zM403.0 124.0h1v1h-1zM407.0 124.0h1v1h-1zM411.0 124.0h1v1h-1zM420.0 124.0h1v1h-1zM424.0 124.0h1v1h-1zM391.0 125.0h1v1h-1zM392.0 125.0h1v1h-1zM400.0 126.0h1v1h-1zM415.0 126.0h1v1h-1zM394.0 127.0h1v1h-1zM405.0 127.0h1v1h-1zM406.0 127.0h1v1h-1zM407.0 127.0h1v1h-1zM408.0 127.0h1v1h-1zM412.0 127.0h1v1h-1zM386.0 128.0h1v1h-1zM393.0 128.0h1v1h-1zM398.0 128.0h1v1h-1zM413.0 128.0h1v1h-1zM409.0 129.0h1v1h-1zM429.0 129.0h1v1h-1zM389.0 130.0h1v1h-1zM394.0 130.0h1v1h-1zM398.0 130.0h1v1h-1zM408.0 130.0h1v1h-1zM414.0 130.0h1v1h-1zM421.0 130.0h1v1h-1zM457.0 130.0h1v1h-1zM495.0 130.0h1v1h-1z" fill="#4562bc" fill-opacity="0.78"/><path d="M403.0 73.0h1v1h-1zM413.0 76.0h1v1h-1zM404.0 77.0h1v1h-1zM397.0 79.0h1v1h-1zM400.0 79.0h1v1h-1zM400.0 80.0h1v1h-1zM401.0 80.0h1v1h-1zM395.0 81.0h1v1h-1zM403.0 81.0h1v1h-1zM404.0 81.0h1v1h-1zM400.0 82.0h1v1h-1zM402.0 82.0h1v1h-1zM404.0 82.0h1v1h-1zM405.0 82.0h1v1h-1zM406.0 82.0h1v1h-1zM410.0 82.0h1v1h-1zM398.0 83.0h1v1h-1zM405.0 83.0h1v1h-1zM406.0 83.0h1v1h-1zM393.0 84.0h1v1h-1zM394.0 84.0h1v1h-1zM397.0 84.0h1v1h-1zM408.0 84.0h1v1h-1zM397.0 85.0h1v1h-1zM401.0 85.0h1v1h-1zM403.0 85.0h1v1h-1zM407.0 85.0h1v1h-1zM408.0 85.0h1v1h-1zM413.0 85.0h1v1h-1zM401.0 86.0h1v1h-1zM402.0 86.0h1v1h-1zM404.0 86.0h1v1h-1zM409.0 86.0h1v1h-1zM400.0 87.0h1v1h-1zM406.0 87.0h1v1h-1zM407.0 87.0h1v1h-1zM412.0 87.0h1v1h-1zM399.0 88.0h1v1h-1zM405.0 88.0h1v1h-1zM403.0 89.0h1v1h-1zM405.0 89.0h1v1h-1zM410.0 89.0h1v1h-1zM392.0 90.0h1v1h-1zM397.0 90.0h1v1h-1zM400.0 90.0h1v1h-1zM405.0 90.0h1v1h-1zM408.0 90.0h1v1h-1zM409.0 90.0h1v1h-1zM395.0 91.0h1v1h-1zM398.0 91.0h1v1h-1zM401.0 91.0h1v1h-1zM409.0 91.0h1v1h-1zM391.0 92.0h1v1h-1zM400.0 92.0h1v1h-1zM402.0 92.0h1v1h-1zM407.0 92.0h1v1h-1zM394.0 93.0h1v1h-1zM404.0 93.0h1v1h-1zM406.0 93.0h1v1h-1zM408.0 93.0h1v1h-1zM399.0 94.0h1v1h-1zM406.0 94.0h1v1h-1zM397.0 95.0h1v1h-1zM406.0 95.0h1v1h-1zM409.0 95.0h1v1h-1zM410.0 95.0h1v1h-1zM407.0 96.0h1v1h-1zM409.0 96.0h1v1h-1zM410.0 96.0h1v1h-1zM397.0 97.0h1v1h-1zM394.0 98.0h1v1h-1zM389.0 99.0h1v1h-1zM396.0 99.0h1v1h-1zM403.0 99.0h1v1h-1zM407.0 99.0h1v1h-1zM404.0 100.0h1v1h-1zM404.0 101.0h1v1h-1zM400.0 102.0h1v1h-1zM396.0 103.0h1v1h-1zM402.0 106.0h1v1h-1z" fill="#3f8a86" fill-opacity="0.8"/><ellipse cx="404" cy="88" rx="8" ry="7" fill="#2e6e80" opacity="0.3" filter="url(#bl2)"/><line x1="385.2" y1="57" x2="385.2" y2="130.5" stroke="#9a8a3a" stroke-width="1.2" opacity="0.75"/><path d="M468.0 55.0h1v1h-1zM470.0 54.0h1v1h-1zM466.0 54.0h1v1h-1zM463.0 51.0h1v1h-1zM464.0 56.0h1v1h-1zM463.0 48.0h1v1h-1zM467.0 58.0h1v1h-1zM450.0 49.0h1v1h-1zM472.0 58.0h1v1h-1zM456.0 51.0h1v1h-1zM465.0 48.0h1v1h-1zM459.0 49.0h1v1h-1zM456.0 56.0h1v1h-1zM447.0 43.0h1v1h-1zM453.0 55.0h1v1h-1zM460.0 50.0h1v1h-1zM457.0 57.0h1v1h-1zM476.0 57.0h1v1h-1zM453.0 48.0h1v1h-1zM445.0 51.0h1v1h-1zM457.0 55.0h1v1h-1zM457.0 47.0h1v1h-1zM442.0 47.0h1v1h-1zM472.0 46.0h1v1h-1zM452.0 48.0h1v1h-1zM467.0 62.0h1v1h-1zM474.0 57.0h1v1h-1zM450.0 44.0h1v1h-1zM465.0 53.0h1v1h-1zM454.0 49.0h1v1h-1zM459.0 61.0h1v1h-1zM457.0 53.0h1v1h-1zM462.0 55.0h1v1h-1zM453.0 56.0h1v1h-1zM471.0 57.0h1v1h-1zM453.0 44.0h1v1h-1zM459.0 51.0h1v1h-1zM453.0 49.0h1v1h-1zM448.0 47.0h1v1h-1zM449.0 49.0h1v1h-1zM441.0 42.0h1v1h-1zM459.0 45.0h1v1h-1zM457.0 50.0h1v1h-1zM470.0 58.0h1v1h-1zM456.0 54.0h1v1h-1zM459.0 55.0h1v1h-1zM456.0 52.0h1v1h-1zM457.0 54.0h1v1h-1zM473.0 62.0h1v1h-1zM472.0 54.0h1v1h-1zM474.0 54.0h1v1h-1zM461.0 48.0h1v1h-1zM470.0 47.0h1v1h-1zM459.0 54.0h1v1h-1zM450.0 51.0h1v1h-1zM452.0 47.0h1v1h-1zM462.0 58.0h1v1h-1zM479.0 53.0h1v1h-1zM447.0 44.0h1v1h-1zM462.0 52.0h1v1h-1zM451.0 45.0h1v1h-1zM462.0 52.0h1v1h-1zM479.0 52.0h1v1h-1zM451.0 64.0h1v1h-1zM449.0 53.0h1v1h-1zM456.0 51.0h1v1h-1zM471.0 52.0h1v1h-1zM458.0 51.0h1v1h-1zM459.0 58.0h1v1h-1zM473.0 53.0h1v1h-1zM473.0 49.0h1v1h-1zM456.0 47.0h1v1h-1zM455.0 50.0h1v1h-1zM464.0 49.0h1v1h-1zM464.0 50.0h1v1h-1zM464.0 54.0h1v1h-1zM452.0 45.0h1v1h-1zM469.0 54.0h1v1h-1zM463.0 51.0h1v1h-1zM473.0 57.0h1v1h-1zM454.0 50.0h1v1h-1zM452.0 47.0h1v1h-1zM459.0 46.0h1v1h-1zM452.0 53.0h1v1h-1zM453.0 48.0h1v1h-1zM449.0 53.0h1v1h-1zM452.0 52.0h1v1h-1zM465.0 55.0h1v1h-1zM459.0 41.0h1v1h-1zM453.0 48.0h1v1h-1zM450.0 43.0h1v1h-1zM463.0 52.0h1v1h-1zM468.0 56.0h1v1h-1zM471.0 56.0h1v1h-1zM459.0 52.0h1v1h-1zM466.0 57.0h1v1h-1zM466.0 51.0h1v1h-1zM450.0 53.0h1v1h-1zM470.0 50.0h1v1h-1zM462.0 48.0h1v1h-1zM458.0 60.0h1v1h-1zM458.0 49.0h1v1h-1zM460.0 49.0h1v1h-1zM466.0 46.0h1v1h-1zM468.0 50.0h1v1h-1zM458.0 62.0h1v1h-1zM470.0 55.0h1v1h-1zM459.0 53.0h1v1h-1zM475.0 62.0h1v1h-1zM452.0 55.0h1v1h-1z" fill="#6f88cc" fill-opacity="0.75"/></g><rect x="384.4" y="13.9" width="118.3" height="117.3" fill="none" stroke="#2a2a2a" stroke-width="1.1"/><line x1="380.9" y1="131.2" x2="384.4" y2="131.2" stroke="#2a2a2a" stroke-width="1"/><line x1="384.4" y1="131.2" x2="384.4" y2="134.7" stroke="#2a2a2a" stroke-width="1"/><line x1="382.8" y1="122.37" x2="384.4" y2="122.37" stroke="#2a2a2a" stroke-width="0.6"/><line x1="393.3" y1="131.2" x2="393.3" y2="132.8" stroke="#2a2a2a" stroke-width="0.6"/><line x1="382.8" y1="117.21" x2="384.4" y2="117.21" stroke="#2a2a2a" stroke-width="0.6"/><line x1="398.51" y1="131.2" x2="398.51" y2="132.8" stroke="#2a2a2a" stroke-width="0.6"/><line x1="382.8" y1="113.54" x2="384.4" y2="113.54" stroke="#2a2a2a" stroke-width="0.6"/><line x1="402.21" y1="131.2" x2="402.21" y2="132.8" stroke="#2a2a2a" stroke-width="0.6"/><line x1="382.2" y1="110.7" x2="384.4" y2="110.7" stroke="#2a2a2a" stroke-width="0.6"/><line x1="405.07" y1="131.2" x2="405.07" y2="133.4" stroke="#2a2a2a" stroke-width="0.6"/><line x1="382.8" y1="108.38" x2="384.4" y2="108.38" stroke="#2a2a2a" stroke-width="0.6"/><line x1="407.41" y1="131.2" x2="407.41" y2="132.8" stroke="#2a2a2a" stroke-width="0.6"/><line x1="382.8" y1="106.42" x2="384.4" y2="106.42" stroke="#2a2a2a" stroke-width="0.6"/><line x1="409.39" y1="131.2" x2="409.39" y2="132.8" stroke="#2a2a2a" stroke-width="0.6"/><line x1="382.8" y1="104.72" x2="384.4" y2="104.72" stroke="#2a2a2a" stroke-width="0.6"/><line x1="411.11" y1="131.2" x2="411.11" y2="132.8" stroke="#2a2a2a" stroke-width="0.6"/><line x1="382.8" y1="103.22" x2="384.4" y2="103.22" stroke="#2a2a2a" stroke-width="0.6"/><line x1="412.62" y1="131.2" x2="412.62" y2="132.8" stroke="#2a2a2a" stroke-width="0.6"/><line x1="380.9" y1="101.88" x2="384.4" y2="101.88" stroke="#2a2a2a" stroke-width="1"/><line x1="413.97" y1="131.2" x2="413.97" y2="134.7" stroke="#2a2a2a" stroke-width="1"/><line x1="382.8" y1="93.05" x2="384.4" y2="93.05" stroke="#2a2a2a" stroke-width="0.6"/><line x1="422.88" y1="131.2" x2="422.88" y2="132.8" stroke="#2a2a2a" stroke-width="0.6"/><line x1="382.8" y1="87.88" x2="384.4" y2="87.88" stroke="#2a2a2a" stroke-width="0.6"/><line x1="428.09" y1="131.2" x2="428.09" y2="132.8" stroke="#2a2a2a" stroke-width="0.6"/><line x1="382.8" y1="84.22" x2="384.4" y2="84.22" stroke="#2a2a2a" stroke-width="0.6"/><line x1="431.78" y1="131.2" x2="431.78" y2="132.8" stroke="#2a2a2a" stroke-width="0.6"/><line x1="382.2" y1="81.38" x2="384.4" y2="81.38" stroke="#2a2a2a" stroke-width="0.6"/><line x1="434.65" y1="131.2" x2="434.65" y2="133.4" stroke="#2a2a2a" stroke-width="0.6"/><line x1="382.8" y1="79.06" x2="384.4" y2="79.06" stroke="#2a2a2a" stroke-width="0.6"/><line x1="436.99" y1="131.2" x2="436.99" y2="132.8" stroke="#2a2a2a" stroke-width="0.6"/><line x1="382.8" y1="77.09" x2="384.4" y2="77.09" stroke="#2a2a2a" stroke-width="0.6"/><line x1="438.97" y1="131.2" x2="438.97" y2="132.8" stroke="#2a2a2a" stroke-width="0.6"/><line x1="382.8" y1="75.39" x2="384.4" y2="75.39" stroke="#2a2a2a" stroke-width="0.6"/><line x1="440.68" y1="131.2" x2="440.68" y2="132.8" stroke="#2a2a2a" stroke-width="0.6"/><line x1="382.8" y1="73.89" x2="384.4" y2="73.89" stroke="#2a2a2a" stroke-width="0.6"/><line x1="442.2" y1="131.2" x2="442.2" y2="132.8" stroke="#2a2a2a" stroke-width="0.6"/><line x1="380.9" y1="72.55" x2="384.4" y2="72.55" stroke="#2a2a2a" stroke-width="1"/><line x1="443.55" y1="131.2" x2="443.55" y2="134.7" stroke="#2a2a2a" stroke-width="1"/><line x1="382.8" y1="63.72" x2="384.4" y2="63.72" stroke="#2a2a2a" stroke-width="0.6"/><line x1="452.45" y1="131.2" x2="452.45" y2="132.8" stroke="#2a2a2a" stroke-width="0.6"/><line x1="382.8" y1="58.56" x2="384.4" y2="58.56" stroke="#2a2a2a" stroke-width="0.6"/><line x1="457.66" y1="131.2" x2="457.66" y2="132.8" stroke="#2a2a2a" stroke-width="0.6"/><line x1="382.8" y1="54.89" x2="384.4" y2="54.89" stroke="#2a2a2a" stroke-width="0.6"/><line x1="461.36" y1="131.2" x2="461.36" y2="132.8" stroke="#2a2a2a" stroke-width="0.6"/><line x1="382.2" y1="52.05" x2="384.4" y2="52.05" stroke="#2a2a2a" stroke-width="0.6"/><line x1="464.22" y1="131.2" x2="464.22" y2="133.4" stroke="#2a2a2a" stroke-width="0.6"/><line x1="382.8" y1="49.73" x2="384.4" y2="49.73" stroke="#2a2a2a" stroke-width="0.6"/><line x1="466.56" y1="131.2" x2="466.56" y2="132.8" stroke="#2a2a2a" stroke-width="0.6"/><line x1="382.8" y1="47.77" x2="384.4" y2="47.77" stroke="#2a2a2a" stroke-width="0.6"/><line x1="468.54" y1="131.2" x2="468.54" y2="132.8" stroke="#2a2a2a" stroke-width="0.6"/><line x1="382.8" y1="46.07" x2="384.4" y2="46.07" stroke="#2a2a2a" stroke-width="0.6"/><line x1="470.26" y1="131.2" x2="470.26" y2="132.8" stroke="#2a2a2a" stroke-width="0.6"/><line x1="382.8" y1="44.57" x2="384.4" y2="44.57" stroke="#2a2a2a" stroke-width="0.6"/><line x1="471.77" y1="131.2" x2="471.77" y2="132.8" stroke="#2a2a2a" stroke-width="0.6"/><line x1="380.9" y1="43.22" x2="384.4" y2="43.22" stroke="#2a2a2a" stroke-width="1"/><line x1="473.12" y1="131.2" x2="473.12" y2="134.7" stroke="#2a2a2a" stroke-width="1"/><line x1="382.8" y1="34.4" x2="384.4" y2="34.4" stroke="#2a2a2a" stroke-width="0.6"/><line x1="482.03" y1="131.2" x2="482.03" y2="132.8" stroke="#2a2a2a" stroke-width="0.6"/><line x1="382.8" y1="29.23" x2="384.4" y2="29.23" stroke="#2a2a2a" stroke-width="0.6"/><line x1="487.24" y1="131.2" x2="487.24" y2="132.8" stroke="#2a2a2a" stroke-width="0.6"/><line x1="382.8" y1="25.57" x2="384.4" y2="25.57" stroke="#2a2a2a" stroke-width="0.6"/><line x1="490.93" y1="131.2" x2="490.93" y2="132.8" stroke="#2a2a2a" stroke-width="0.6"/><line x1="382.2" y1="22.73" x2="384.4" y2="22.73" stroke="#2a2a2a" stroke-width="0.6"/><line x1="493.8" y1="131.2" x2="493.8" y2="133.4" stroke="#2a2a2a" stroke-width="0.6"/><line x1="382.8" y1="20.41" x2="384.4" y2="20.41" stroke="#2a2a2a" stroke-width="0.6"/><line x1="496.14" y1="131.2" x2="496.14" y2="132.8" stroke="#2a2a2a" stroke-width="0.6"/><line x1="382.8" y1="18.44" x2="384.4" y2="18.44" stroke="#2a2a2a" stroke-width="0.6"/><line x1="498.12" y1="131.2" x2="498.12" y2="132.8" stroke="#2a2a2a" stroke-width="0.6"/><line x1="382.8" y1="16.74" x2="384.4" y2="16.74" stroke="#2a2a2a" stroke-width="0.6"/><line x1="499.83" y1="131.2" x2="499.83" y2="132.8" stroke="#2a2a2a" stroke-width="0.6"/><line x1="382.8" y1="15.24" x2="384.4" y2="15.24" stroke="#2a2a2a" stroke-width="0.6"/><line x1="501.35" y1="131.2" x2="501.35" y2="132.8" stroke="#2a2a2a" stroke-width="0.6"/><line x1="380.9" y1="13.9" x2="384.4" y2="13.9" stroke="#2a2a2a" stroke-width="1"/><line x1="502.7" y1="131.2" x2="502.7" y2="134.7" stroke="#2a2a2a" stroke-width="1"/><text x="373.7" y="134.2" font-size="8.2" text-anchor="end" fill="#222">10</text><text x="374.1" y="130.6" font-size="5.8" text-anchor="start" fill="#222">0</text><text x="385" y="144.4" font-size="8.2" text-anchor="middle" fill="#222">10</text><text x="389.5" y="141.1" font-size="5.8" text-anchor="start" fill="#222">0</text><text x="373.7" y="104.88" font-size="8.2" text-anchor="end" fill="#222">10</text><text x="374.1" y="101.28" font-size="5.8" text-anchor="start" fill="#222">1</text><text x="414.57" y="144.4" font-size="8.2" text-anchor="middle" fill="#222">10</text><text x="419.07" y="141.1" font-size="5.8" text-anchor="start" fill="#222">1</text><text x="373.7" y="75.55" font-size="8.2" text-anchor="end" fill="#222">10</text><text x="374.1" y="71.95" font-size="5.8" text-anchor="start" fill="#222">2</text><text x="444.15" y="144.4" font-size="8.2" text-anchor="middle" fill="#222">10</text><text x="448.65" y="141.1" font-size="5.8" text-anchor="start" fill="#222">2</text><text x="373.7" y="46.22" font-size="8.2" text-anchor="end" fill="#222">10</text><text x="374.1" y="42.62" font-size="5.8" text-anchor="start" fill="#222">3</text><text x="473.73" y="144.4" font-size="8.2" text-anchor="middle" fill="#222">10</text><text x="478.23" y="141.1" font-size="5.8" text-anchor="start" fill="#222">3</text><text x="373.7" y="16.9" font-size="8.2" text-anchor="end" fill="#222">10</text><text x="374.1" y="13.3" font-size="5.8" text-anchor="start" fill="#222">4</text><text x="503.3" y="144.4" font-size="8.2" text-anchor="middle" fill="#222">10</text><text x="507.8" y="141.1" font-size="5.8" text-anchor="start" fill="#222">4</text><rect x="438.7" y="36.2" width="43.4" height="30" fill="none" stroke="#561c6c" stroke-width="1.5"/><text x="460.4" y="32.7" font-size="9.3" text-anchor="middle" font-weight="normal" fill="#222">MPP</text><text transform="translate(358.5,72.1) rotate(-90)" x="0" y="0" font-size="9.6" text-anchor="middle" fill="#222" stroke="#222" stroke-width="0.3" textLength="15" lengthAdjust="spacingAndGlyphs" style="white-space:pre">c-Kit</text><text x="443" y="159.2" font-size="11" text-anchor="middle" font-weight="normal" fill="#222" textLength="14.6" lengthAdjust="spacingAndGlyphs" stroke="#222" stroke-width="0.3">Sca1</text><line x1="140" y1="92.5" x2="189.5" y2="92.5" stroke="#1a1a1a" stroke-width="1.3"/><polygon points="196.9,92.5 186.2,88.1 188.7,92.5 186.2,97" fill="#1a1a1a"/><line x1="69" y1="114" x2="364" y2="112.45" stroke="#1a1a1a" stroke-width="1.3"/><polygon points="371.9,112.4 361,108.1 363.3,112.4 361,117.2" fill="#1a1a1a"/><text x="7.8" y="17.2" font-size="12.7" text-anchor="start" font-weight="bold" fill="#111" textLength="8.6" lengthAdjust="spacingAndGlyphs" stroke="#111" stroke-width="0.45">A</text><line x1="55" y1="174.9" x2="55" y2="315.6" stroke="#2a2a2a" stroke-width="1.3"/><line x1="52" y1="315" x2="55" y2="315" stroke="#2a2a2a" stroke-width="1.1"/><line x1="52" y1="268.5" x2="55" y2="268.5" stroke="#2a2a2a" stroke-width="1.1"/><line x1="52" y1="222" x2="55" y2="222" stroke="#2a2a2a" stroke-width="1.1"/><line x1="52" y1="175.5" x2="55" y2="175.5" stroke="#2a2a2a" stroke-width="1.1"/><line x1="53.4" y1="291.75" x2="55" y2="291.75" stroke="#2a2a2a" stroke-width="1.1"/><line x1="53.4" y1="245.25" x2="55" y2="245.25" stroke="#2a2a2a" stroke-width="1.1"/><line x1="53.4" y1="198.75" x2="55" y2="198.75" stroke="#2a2a2a" stroke-width="1.1"/><text x="48.5" y="318.1" font-size="8.6" text-anchor="end" font-weight="normal" fill="#333">0.000</text><text x="48.5" y="271.6" font-size="8.6" text-anchor="end" font-weight="normal" fill="#333">0.005</text><text x="48.5" y="225.1" font-size="8.6" text-anchor="end" font-weight="normal" fill="#333">0.010</text><text x="48.5" y="178.6" font-size="8.6" text-anchor="end" font-weight="normal" fill="#333">0.015</text><line x1="54.5" y1="315" x2="188.75" y2="315" stroke="#2a2a2a" stroke-width="1.3"/><line x1="76.5" y1="213" x2="76.5" y2="195" stroke="#c8202f" stroke-width="1"/><polygon points="74.2,194.5 78.8,194.5 77,196.3 76,196.3" fill="#c8202f"/><rect x="69.25" y="212.5" width="14.5" height="102.5" fill="#c8202f"/><line x1="91.38" y1="251.75" x2="91.38" y2="237" stroke="#2a6aa8" stroke-width="1"/><polygon points="89.08,236.5 93.67,236.5 91.88,238.3 90.88,238.3" fill="#2a6aa8"/><rect x="83.75" y="251.25" width="15.25" height="63.75" fill="#0f4d80"/><line x1="106.5" y1="251.75" x2="106.5" y2="241" stroke="#3cb44a" stroke-width="1"/><polygon points="104.2,240.5 108.8,240.5 107,242.3 106,242.3" fill="#3cb44a"/><rect x="99" y="251.25" width="15" height="63.75" fill="#3cb44a"/><line x1="142.5" y1="308" x2="142.5" y2="303.75" stroke="#c8202f" stroke-width="1"/><polygon points="140.2,303.25 144.8,303.25 143,305.05 142,305.05" fill="#c8202f"/><rect x="135" y="307.5" width="15" height="7.5" fill="#c8202f"/><line x1="157.5" y1="313.5" x2="157.5" y2="311" stroke="#2a6aa8" stroke-width="1"/><polygon points="155.2,310.5 159.8,310.5 158,312.3 157,312.3" fill="#2a6aa8"/><rect x="150" y="313" width="15" height="2" fill="#0f4d80"/><line x1="172.5" y1="314.7" x2="172.5" y2="313.5" stroke="#3cb44a" stroke-width="1"/><polygon points="170.2,313 174.8,313 173,314.8 172,314.8" fill="#3cb44a"/><rect x="165" y="314.2" width="15" height="0.8" fill="#3cb44a"/><polyline points="76.25,190 76.25,182.5 101.25,182.5 101.25,188" fill="none" stroke="#2a2a2a" stroke-width="1"/><line x1="95" y1="188" x2="107.5" y2="188" stroke="#2a2a2a" stroke-width="1"/><text x="88.75" y="183" font-size="8.3" text-anchor="middle" font-weight="normal" fill="#222">**</text><polyline points="142.5,298.75 142.5,292.5 167.5,292.5 167.5,297.5" fill="none" stroke="#2a2a2a" stroke-width="1"/><line x1="161.75" y1="297.5" x2="173.75" y2="297.5" stroke="#2a2a2a" stroke-width="1"/><text x="155" y="293" font-size="8.3" text-anchor="middle" font-weight="normal" fill="#222">**</text><text x="91.5" y="325.4" font-size="8.6" text-anchor="middle" font-weight="normal" fill="#333" textLength="13.3" lengthAdjust="spacingAndGlyphs">BM</text><text x="157.5" y="325.4" font-size="8.6" text-anchor="middle" font-weight="normal" fill="#333" textLength="11.3" lengthAdjust="spacingAndGlyphs">SP</text><text transform="translate(20.1,245.25) rotate(-90)" x="0" y="0" font-size="10.2" text-anchor="middle" fill="#222" stroke="#222" stroke-width="0.3" textLength="27.5" lengthAdjust="spacingAndGlyphs" style="white-space:pre">HSC (%)</text><rect x="117" y="179" width="12" height="6" fill="#c8202f"/><text x="132.5" y="185.2" font-size="8.9" text-anchor="start" font-weight="normal" fill="#333" textLength="48.6" lengthAdjust="spacingAndGlyphs">Control, n = 8</text><rect x="117" y="189.3" width="12" height="6" fill="#0f4d80"/><text x="132.5" y="195.5" font-size="8.9" text-anchor="start" font-weight="normal" fill="#333" textLength="57.98" lengthAdjust="spacingAndGlyphs">Gata2+/&#8722;, n = 6</text><rect x="117" y="199.5" width="12" height="6" fill="#3cb44a"/><text x="132.5" y="205.7" font-size="8.9" text-anchor="start" font-weight="normal" fill="#333" textLength="52.49" lengthAdjust="spacingAndGlyphs">+9.5+/&#8722;, n = 6</text><line x1="259" y1="176.4" x2="259" y2="315.6" stroke="#2a2a2a" stroke-width="1.3"/><line x1="256" y1="315" x2="259" y2="315" stroke="#2a2a2a" stroke-width="1.1"/><line x1="256" y1="295.29" x2="259" y2="295.29" stroke="#2a2a2a" stroke-width="1.1"/><line x1="256" y1="275.57" x2="259" y2="275.57" stroke="#2a2a2a" stroke-width="1.1"/><line x1="256" y1="255.86" x2="259" y2="255.86" stroke="#2a2a2a" stroke-width="1.1"/><line x1="256" y1="236.14" x2="259" y2="236.14" stroke="#2a2a2a" stroke-width="1.1"/><line x1="256" y1="216.43" x2="259" y2="216.43" stroke="#2a2a2a" stroke-width="1.1"/><line x1="256" y1="196.72" x2="259" y2="196.72" stroke="#2a2a2a" stroke-width="1.1"/><line x1="256" y1="177" x2="259" y2="177" stroke="#2a2a2a" stroke-width="1.1"/><line x1="257.4" y1="305.14" x2="259" y2="305.14" stroke="#2a2a2a" stroke-width="1.1"/><line x1="257.4" y1="285.43" x2="259" y2="285.43" stroke="#2a2a2a" stroke-width="1.1"/><line x1="257.4" y1="265.72" x2="259" y2="265.72" stroke="#2a2a2a" stroke-width="1.1"/><line x1="257.4" y1="246" x2="259" y2="246" stroke="#2a2a2a" stroke-width="1.1"/><line x1="257.4" y1="226.29" x2="259" y2="226.29" stroke="#2a2a2a" stroke-width="1.1"/><line x1="257.4" y1="206.57" x2="259" y2="206.57" stroke="#2a2a2a" stroke-width="1.1"/><line x1="257.4" y1="186.86" x2="259" y2="186.86" stroke="#2a2a2a" stroke-width="1.1"/><text x="252.5" y="318.1" font-size="8.6" text-anchor="end" font-weight="normal" fill="#333">0.000</text><text x="252.5" y="298.38" font-size="8.6" text-anchor="end" font-weight="normal" fill="#333">0.005</text><text x="252.5" y="278.67" font-size="8.6" text-anchor="end" font-weight="normal" fill="#333">0.010</text><text x="252.5" y="258.95" font-size="8.6" text-anchor="end" font-weight="normal" fill="#333">0.015</text><text x="252.5" y="239.24" font-size="8.6" text-anchor="end" font-weight="normal" fill="#333">0.020</text><text x="252.5" y="219.53" font-size="8.6" text-anchor="end" font-weight="normal" fill="#333">0.025</text><text x="252.5" y="199.81" font-size="8.6" text-anchor="end" font-weight="normal" fill="#333">0.030</text><text x="252.5" y="180.1" font-size="8.6" text-anchor="end" font-weight="normal" fill="#333">0.035</text><line x1="258.5" y1="315" x2="392.3" y2="315" stroke="#2a2a2a" stroke-width="1.3"/><line x1="279.38" y1="231.75" x2="279.38" y2="215" stroke="#c8202f" stroke-width="1"/><polygon points="277.07,214.5 281.68,214.5 279.88,216.3 278.88,216.3" fill="#c8202f"/><rect x="272" y="231.25" width="14.75" height="83.75" fill="#c8202f"/><line x1="294.25" y1="272.5" x2="294.25" y2="257.5" stroke="#2a6aa8" stroke-width="1"/><polygon points="291.95,257 296.55,257 294.75,258.8 293.75,258.8" fill="#2a6aa8"/><rect x="286.75" y="272" width="15" height="43" fill="#0f4d80"/><line x1="309.25" y1="276.5" x2="309.25" y2="272.25" stroke="#3cb44a" stroke-width="1"/><polygon points="306.95,271.75 311.55,271.75 309.75,273.55 308.75,273.55" fill="#3cb44a"/><rect x="301.75" y="276" width="15" height="39" fill="#3cb44a"/><line x1="344.9" y1="309" x2="344.9" y2="306.1" stroke="#c8202f" stroke-width="1"/><polygon points="342.6,305.6 347.2,305.6 345.4,307.4 344.4,307.4" fill="#c8202f"/><rect x="337.5" y="308.5" width="14.8" height="6.5" fill="#c8202f"/><line x1="359.6" y1="310.5" x2="359.6" y2="306.3" stroke="#2a6aa8" stroke-width="1"/><polygon points="357.3,305.8 361.9,305.8 360.1,307.6 359.1,307.6" fill="#2a6aa8"/><rect x="352.3" y="310" width="14.6" height="5" fill="#0f4d80"/><line x1="374.3" y1="314.2" x2="374.3" y2="313.5" stroke="#3cb44a" stroke-width="1"/><polygon points="372,313 376.6,313 374.8,314.8 373.8,314.8" fill="#3cb44a"/><rect x="366.9" y="313.7" width="14.8" height="1.3" fill="#3cb44a"/><polyline points="279.25,211.25 279.25,202.5 304,202.5 304,207.5" fill="none" stroke="#2a2a2a" stroke-width="1"/><line x1="298" y1="207.5" x2="310" y2="207.5" stroke="#2a2a2a" stroke-width="1"/><text x="291.25" y="202.5" font-size="8.3" text-anchor="middle" font-weight="normal" fill="#222">**</text><line x1="347.1" y1="298.3" x2="358.7" y2="298.3" stroke="#2a2a2a" stroke-width="1"/><polyline points="352.5,298.3 352.5,290 377.5,290 377.5,295.4" fill="none" stroke="#2a2a2a" stroke-width="1"/><text x="365" y="290.5" font-size="8.3" text-anchor="middle" font-weight="normal" fill="#222">**</text><text x="294.6" y="325.4" font-size="8.6" text-anchor="middle" font-weight="normal" fill="#333" textLength="13.3" lengthAdjust="spacingAndGlyphs">BM</text><text x="359.8" y="325.4" font-size="8.6" text-anchor="middle" font-weight="normal" fill="#333" textLength="11.4" lengthAdjust="spacingAndGlyphs">SP</text><text transform="translate(223.6,245.9) rotate(-90)" x="0" y="0" font-size="10.4" text-anchor="middle" fill="#222" stroke="#222" stroke-width="0.3" textLength="28.8" lengthAdjust="spacingAndGlyphs" style="white-space:pre">MPP (%)</text><text x="8.4" y="358.4" font-size="12.7" text-anchor="start" font-weight="bold" fill="#111" textLength="7.8" lengthAdjust="spacingAndGlyphs" stroke="#111" stroke-width="0.45">B</text><line x1="56" y1="363.8" x2="56" y2="528.6" stroke="#2a2a2a" stroke-width="1.3"/><line x1="53" y1="528" x2="56" y2="528" stroke="#2a2a2a" stroke-width="1.1"/><line x1="53" y1="504.63" x2="56" y2="504.63" stroke="#2a2a2a" stroke-width="1.1"/><line x1="53" y1="481.26" x2="56" y2="481.26" stroke="#2a2a2a" stroke-width="1.1"/><line x1="53" y1="457.89" x2="56" y2="457.89" stroke="#2a2a2a" stroke-width="1.1"/><line x1="53" y1="434.52" x2="56" y2="434.52" stroke="#2a2a2a" stroke-width="1.1"/><line x1="53" y1="411.15" x2="56" y2="411.15" stroke="#2a2a2a" stroke-width="1.1"/><line x1="53" y1="387.78" x2="56" y2="387.78" stroke="#2a2a2a" stroke-width="1.1"/><line x1="53" y1="364.41" x2="56" y2="364.41" stroke="#2a2a2a" stroke-width="1.1"/><line x1="54.4" y1="516.32" x2="56" y2="516.32" stroke="#2a2a2a" stroke-width="1.1"/><line x1="54.4" y1="492.95" x2="56" y2="492.95" stroke="#2a2a2a" stroke-width="1.1"/><line x1="54.4" y1="469.58" x2="56" y2="469.58" stroke="#2a2a2a" stroke-width="1.1"/><line x1="54.4" y1="446.21" x2="56" y2="446.21" stroke="#2a2a2a" stroke-width="1.1"/><line x1="54.4" y1="422.84" x2="56" y2="422.84" stroke="#2a2a2a" stroke-width="1.1"/><line x1="54.4" y1="399.47" x2="56" y2="399.47" stroke="#2a2a2a" stroke-width="1.1"/><line x1="54.4" y1="376.1" x2="56" y2="376.1" stroke="#2a2a2a" stroke-width="1.1"/><text x="49.5" y="531.1" font-size="8.6" text-anchor="end" font-weight="normal" fill="#333">0.0</text><text x="49.5" y="507.73" font-size="8.6" text-anchor="end" font-weight="normal" fill="#333">0.5</text><text x="49.5" y="484.36" font-size="8.6" text-anchor="end" font-weight="normal" fill="#333">1.0</text><text x="49.5" y="460.99" font-size="8.6" text-anchor="end" font-weight="normal" fill="#333">1.5</text><text x="49.5" y="437.62" font-size="8.6" text-anchor="end" font-weight="normal" fill="#333">2.0</text><text x="49.5" y="414.25" font-size="8.6" text-anchor="end" font-weight="normal" fill="#333">2.5</text><text x="49.5" y="390.88" font-size="8.6" text-anchor="end" font-weight="normal" fill="#333">3.0</text><text x="49.5" y="367.51" font-size="8.6" text-anchor="end" font-weight="normal" fill="#333">3.5</text><line x1="55.5" y1="528" x2="168.5" y2="528" stroke="#2a2a2a" stroke-width="1.3"/><line x1="74.35" y1="481.8" x2="74.35" y2="478" stroke="#c8202f" stroke-width="1"/><polygon points="72.05,477.5 76.65,477.5 74.85,479.3 73.85,479.3" fill="#c8202f"/><rect x="61.8" y="481.3" width="25.1" height="46.7" fill="#c8202f"/><line x1="110.25" y1="392.3" x2="110.25" y2="380.7" stroke="#2a6aa8" stroke-width="1"/><polygon points="107.95,380.2 112.55,380.2 110.75,382 109.75,382" fill="#2a6aa8"/><rect x="97.5" y="391.8" width="25.5" height="136.2" fill="#0f4d80"/><line x1="146.9" y1="436.8" x2="146.9" y2="430.4" stroke="#3cb44a" stroke-width="1"/><polygon points="144.6,429.9 149.2,429.9 147.4,431.7 146.4,431.7" fill="#3cb44a"/><rect x="134.2" y="436.3" width="25.4" height="91.7" fill="#3cb44a"/><polyline points="74.8,408.8 74.8,358.6 129.8,358.6 129.8,365.4" fill="none" stroke="#2a2a2a" stroke-width="1"/><line x1="110.1" y1="365.4" x2="146.7" y2="365.4" stroke="#2a2a2a" stroke-width="1"/><text x="102.3" y="357.6" font-size="8.3" text-anchor="middle" font-weight="normal" fill="#222">***</text><polyline points="110.1,380.2 110.1,374.2 146.7,374.2 146.7,429.5" fill="none" stroke="#2a2a2a" stroke-width="1"/><text x="128.8" y="375.6" font-size="8.3" text-anchor="middle" font-weight="normal" fill="#222">***</text><text x="79" y="373.8" font-size="9" text-anchor="start" font-weight="normal" fill="#222">HSC</text><text x="74.3" y="538.5" font-size="8.6" text-anchor="middle" font-weight="normal" fill="#333" textLength="27.1" lengthAdjust="spacingAndGlyphs">Control</text><text x="107.3" y="538.5" font-size="8.6" text-anchor="middle" font-weight="normal" fill="#333" textLength="31.7" lengthAdjust="spacingAndGlyphs">Gata2+/&#8722;</text><text x="146.7" y="538.5" font-size="8.6" text-anchor="middle" font-weight="normal" fill="#333" textLength="30.2" lengthAdjust="spacingAndGlyphs">+9.5+/&#8722;</text><text x="74.2" y="549.1" font-size="8.6" text-anchor="middle" font-weight="normal" fill="#333" textLength="19.5" lengthAdjust="spacingAndGlyphs">n = 5</text><text x="109.7" y="549.1" font-size="8.6" text-anchor="middle" font-weight="normal" fill="#333" textLength="19.5" lengthAdjust="spacingAndGlyphs">n = 4</text><text x="146.6" y="549.1" font-size="8.6" text-anchor="middle" font-weight="normal" fill="#333" textLength="19.5" lengthAdjust="spacingAndGlyphs">n = 4</text><text transform="translate(30.2,446.2) rotate(-90)" x="0" y="0" font-size="9.9" text-anchor="middle" fill="#222" stroke="#222" stroke-width="0.3" textLength="51.7" lengthAdjust="spacingAndGlyphs" style="white-space:pre">Apoptosis (ratio)</text><text x="211.1" y="358.45" font-size="12.7" text-anchor="start" font-weight="bold" fill="#111" textLength="8.2" lengthAdjust="spacingAndGlyphs" stroke="#111" stroke-width="0.45">C</text><line x1="259.25" y1="365.15" x2="259.25" y2="528.35" stroke="#2a2a2a" stroke-width="1.3"/><line x1="256.25" y1="527.75" x2="259.25" y2="527.75" stroke="#2a2a2a" stroke-width="1.1"/><line x1="256.25" y1="495.35" x2="259.25" y2="495.35" stroke="#2a2a2a" stroke-width="1.1"/><line x1="256.25" y1="462.95" x2="259.25" y2="462.95" stroke="#2a2a2a" stroke-width="1.1"/><line x1="256.25" y1="430.55" x2="259.25" y2="430.55" stroke="#2a2a2a" stroke-width="1.1"/><line x1="256.25" y1="398.15" x2="259.25" y2="398.15" stroke="#2a2a2a" stroke-width="1.1"/><line x1="256.25" y1="365.75" x2="259.25" y2="365.75" stroke="#2a2a2a" stroke-width="1.1"/><line x1="257.65" y1="511.55" x2="259.25" y2="511.55" stroke="#2a2a2a" stroke-width="1.1"/><line x1="257.65" y1="479.15" x2="259.25" y2="479.15" stroke="#2a2a2a" stroke-width="1.1"/><line x1="257.65" y1="446.75" x2="259.25" y2="446.75" stroke="#2a2a2a" stroke-width="1.1"/><line x1="257.65" y1="414.35" x2="259.25" y2="414.35" stroke="#2a2a2a" stroke-width="1.1"/><line x1="257.65" y1="381.95" x2="259.25" y2="381.95" stroke="#2a2a2a" stroke-width="1.1"/><text x="252.75" y="530.85" font-size="8.6" text-anchor="end" font-weight="normal" fill="#333">0</text><text x="252.75" y="498.45" font-size="8.6" text-anchor="end" font-weight="normal" fill="#333">20</text><text x="252.75" y="466.05" font-size="8.6" text-anchor="end" font-weight="normal" fill="#333">40</text><text x="252.75" y="433.65" font-size="8.6" text-anchor="end" font-weight="normal" fill="#333">60</text><text x="252.75" y="401.25" font-size="8.6" text-anchor="end" font-weight="normal" fill="#333">80</text><text x="252.75" y="368.85" font-size="8.6" text-anchor="end" font-weight="normal" fill="#333">100</text><line x1="258.75" y1="527.75" x2="452" y2="527.75" stroke="#2a2a2a" stroke-width="1.3"/><line x1="278.25" y1="406" x2="278.25" y2="404.8" stroke="#c8202f" stroke-width="1"/><polygon points="275.95,404.3 280.55,404.3 278.75,406.1 277.75,406.1" fill="#c8202f"/><rect x="270.5" y="405.5" width="15.5" height="122.25" fill="#c8202f"/><line x1="293.88" y1="397.5" x2="293.88" y2="396.5" stroke="#2a6aa8" stroke-width="1"/><polygon points="291.57,396 296.18,396 294.38,397.8 293.38,397.8" fill="#2a6aa8"/><rect x="286" y="397" width="15.75" height="130.75" fill="#0f4d80"/><line x1="309.62" y1="391.75" x2="309.62" y2="390.8" stroke="#3cb44a" stroke-width="1"/><polygon points="307.32,390.3 311.93,390.3 310.12,392.1 309.12,392.1" fill="#3cb44a"/><rect x="301.75" y="391.25" width="15.75" height="136.5" fill="#3cb44a"/><line x1="336.35" y1="508.8" x2="336.35" y2="501.7" stroke="#c8202f" stroke-width="1"/><polygon points="334.05,501.2 338.65,501.2 336.85,503 335.85,503" fill="#c8202f"/><rect x="328.1" y="508.3" width="16.5" height="19.45" fill="#c8202f"/><line x1="352.8" y1="512.2" x2="352.8" y2="509.9" stroke="#2a6aa8" stroke-width="1"/><polygon points="350.5,509.4 355.1,509.4 353.3,511.2 352.3,511.2" fill="#2a6aa8"/><rect x="344.6" y="511.7" width="16.4" height="16.05" fill="#0f4d80"/><line x1="369.05" y1="519.5" x2="369.05" y2="518.3" stroke="#3cb44a" stroke-width="1"/><polygon points="366.75,517.8 371.35,517.8 369.55,519.6 368.55,519.6" fill="#3cb44a"/><rect x="361" y="519" width="16.1" height="8.75" fill="#3cb44a"/><line x1="396.4" y1="517.1" x2="396.4" y2="516.1" stroke="#c8202f" stroke-width="1"/><polygon points="394.1,515.6 398.7,515.6 396.9,517.4 395.9,517.4" fill="#c8202f"/><rect x="388.3" y="516.6" width="16.2" height="11.15" fill="#c8202f"/><line x1="412.62" y1="521.9" x2="412.62" y2="521" stroke="#2a6aa8" stroke-width="1"/><polygon points="410.32,520.5 414.93,520.5 413.12,522.3 412.12,522.3" fill="#2a6aa8"/><rect x="404.5" y="521.4" width="16.25" height="6.35" fill="#0f4d80"/><line x1="428.88" y1="520.5" x2="428.88" y2="519.5" stroke="#3cb44a" stroke-width="1"/><polygon points="426.57,519 431.18,519 429.38,520.8 428.38,520.8" fill="#3cb44a"/><rect x="420.75" y="520" width="16.25" height="7.75" fill="#3cb44a"/><polyline points="278,394.5 278,365.5 302.5,365.5 302.5,369.25" fill="none" stroke="#2a2a2a" stroke-width="1"/><line x1="293.75" y1="369.25" x2="311.25" y2="369.25" stroke="#2a2a2a" stroke-width="1"/><text x="290" y="365.8" font-size="8.3" text-anchor="middle" font-weight="normal" fill="#222">**</text><polyline points="293.75,389.25 293.75,385 309.5,385 309.5,388.25" fill="none" stroke="#2a2a2a" stroke-width="1"/><text x="301.75" y="384.3" font-size="8.3" text-anchor="middle" font-weight="normal" fill="#222">*</text><polyline points="352.7,506 352.7,500.8 369.6,500.8 369.6,514.6" fill="none" stroke="#2a2a2a" stroke-width="1"/><text x="361" y="501.2" font-size="8.3" text-anchor="middle" font-weight="normal" fill="#222">*</text><text x="294.2" y="538.2" font-size="8.6" text-anchor="middle" font-weight="normal" fill="#333" textLength="12.2" lengthAdjust="spacingAndGlyphs">G0</text><text x="354.1" y="538.2" font-size="8.6" text-anchor="middle" font-weight="normal" fill="#333" textLength="10.9" lengthAdjust="spacingAndGlyphs">G1</text><text x="414.4" y="538.2" font-size="8.6" text-anchor="middle" font-weight="normal" fill="#333" textLength="31.3" lengthAdjust="spacingAndGlyphs">S/G2/M</text><rect x="345.5" y="382" width="12" height="6" fill="#c8202f"/><text x="361.25" y="388.2" font-size="8.9" text-anchor="start" font-weight="normal" fill="#333" textLength="48.75" lengthAdjust="spacingAndGlyphs">Control, n = 5</text><rect x="345.5" y="394.3" width="12" height="6" fill="#0f4d80"/><text x="361.25" y="400.5" font-size="8.9" text-anchor="start" font-weight="normal" fill="#333" textLength="58.16" lengthAdjust="spacingAndGlyphs">Gata2+/&#8722;, n = 4</text><rect x="345.5" y="406.5" width="12" height="6" fill="#3cb44a"/><text x="361.25" y="412.7" font-size="8.9" text-anchor="start" font-weight="normal" fill="#333" textLength="52.65" lengthAdjust="spacingAndGlyphs">+9.5+/&#8722;, n = 4</text><text transform="translate(231,446.8) rotate(-90)" x="0" y="0" font-size="10.4" text-anchor="middle" fill="#222" stroke="#222" stroke-width="0.3" textLength="74.1" lengthAdjust="spacingAndGlyphs" style="white-space:pre">Frequency of  HSC (%)</text><text x="8.4" y="567" font-size="12.2" text-anchor="start" font-weight="bold" fill="#111" textLength="8.3" lengthAdjust="spacingAndGlyphs" stroke="#111" stroke-width="0.45">D</text><line x1="56.2" y1="569.4" x2="56.2" y2="730" stroke="#2a2a2a" stroke-width="1.3"/><line x1="53.2" y1="729.4" x2="56.2" y2="729.4" stroke="#2a2a2a" stroke-width="1.1"/><line x1="53.2" y1="697.52" x2="56.2" y2="697.52" stroke="#2a2a2a" stroke-width="1.1"/><line x1="53.2" y1="665.64" x2="56.2" y2="665.64" stroke="#2a2a2a" stroke-width="1.1"/><line x1="53.2" y1="633.76" x2="56.2" y2="633.76" stroke="#2a2a2a" stroke-width="1.1"/><line x1="53.2" y1="601.88" x2="56.2" y2="601.88" stroke="#2a2a2a" stroke-width="1.1"/><line x1="53.2" y1="570" x2="56.2" y2="570" stroke="#2a2a2a" stroke-width="1.1"/><line x1="54.6" y1="713.46" x2="56.2" y2="713.46" stroke="#2a2a2a" stroke-width="1.1"/><line x1="54.6" y1="681.58" x2="56.2" y2="681.58" stroke="#2a2a2a" stroke-width="1.1"/><line x1="54.6" y1="649.7" x2="56.2" y2="649.7" stroke="#2a2a2a" stroke-width="1.1"/><line x1="54.6" y1="617.82" x2="56.2" y2="617.82" stroke="#2a2a2a" stroke-width="1.1"/><line x1="54.6" y1="585.94" x2="56.2" y2="585.94" stroke="#2a2a2a" stroke-width="1.1"/><text x="49.7" y="732.5" font-size="8.6" text-anchor="end" font-weight="normal" fill="#333">0.0</text><text x="49.7" y="700.62" font-size="8.6" text-anchor="end" font-weight="normal" fill="#333">0.5</text><text x="49.7" y="668.74" font-size="8.6" text-anchor="end" font-weight="normal" fill="#333">1.0</text><text x="49.7" y="636.86" font-size="8.6" text-anchor="end" font-weight="normal" fill="#333">1.5</text><text x="49.7" y="604.98" font-size="8.6" text-anchor="end" font-weight="normal" fill="#333">2.0</text><text x="49.7" y="573.1" font-size="8.6" text-anchor="end" font-weight="normal" fill="#333">2.5</text><line x1="55.7" y1="729.4" x2="173" y2="729.4" stroke="#2a2a2a" stroke-width="1.3"/><line x1="74.45" y1="668.8" x2="74.45" y2="661.1" stroke="#c8202f" stroke-width="1"/><polygon points="72.15,660.6 76.75,660.6 74.95,662.4 73.95,662.4" fill="#c8202f"/><rect x="62.2" y="668.3" width="24.5" height="61.1" fill="#c8202f"/><line x1="111.25" y1="608.8" x2="111.25" y2="599" stroke="#2a6aa8" stroke-width="1"/><polygon points="108.95,598.5 113.55,598.5 111.75,600.3 110.75,600.3" fill="#2a6aa8"/><rect x="99" y="608.3" width="24.5" height="121.1" fill="#0f4d80"/><line x1="148.2" y1="622.5" x2="148.2" y2="611.1" stroke="#3cb44a" stroke-width="1"/><polygon points="145.9,610.6 150.5,610.6 148.7,612.4 147.7,612.4" fill="#3cb44a"/><rect x="135.6" y="622" width="25.2" height="107.4" fill="#3cb44a"/><polyline points="74.5,639.3 74.5,588.7 130.7,588.7 130.7,595.8" fill="none" stroke="#2a2a2a" stroke-width="1"/><line x1="112.7" y1="595.8" x2="149.3" y2="595.8" stroke="#2a2a2a" stroke-width="1"/><text x="103.9" y="588.8" font-size="8.3" text-anchor="middle" font-weight="normal" fill="#222">***</text><text x="79.4" y="577.2" font-size="9" text-anchor="start" font-weight="normal" fill="#222">MPP</text><text x="74.5" y="739.6" font-size="8.6" text-anchor="middle" font-weight="normal" fill="#333" textLength="27.5" lengthAdjust="spacingAndGlyphs">Control</text><text x="108.7" y="739.6" font-size="8.6" text-anchor="middle" font-weight="normal" fill="#333" textLength="31.3" lengthAdjust="spacingAndGlyphs">Gata2+/&#8722;</text><text x="148.4" y="739.6" font-size="8.6" text-anchor="middle" font-weight="normal" fill="#333" textLength="31" lengthAdjust="spacingAndGlyphs">+9.5+/&#8722;</text><text x="74.5" y="750.2" font-size="8.6" text-anchor="middle" font-weight="normal" fill="#333" textLength="19.5" lengthAdjust="spacingAndGlyphs">n = 5</text><text x="111" y="750.2" font-size="8.6" text-anchor="middle" font-weight="normal" fill="#333" textLength="19.5" lengthAdjust="spacingAndGlyphs">n = 4</text><text x="147.8" y="750.2" font-size="8.6" text-anchor="middle" font-weight="normal" fill="#333" textLength="19.5" lengthAdjust="spacingAndGlyphs">n = 4</text><text transform="translate(30.2,649.8) rotate(-90)" x="0" y="0" font-size="9.9" text-anchor="middle" fill="#222" stroke="#222" stroke-width="0.3" textLength="52.6" lengthAdjust="spacingAndGlyphs" style="white-space:pre">Apoptosis (ratio)</text><text x="211.8" y="567" font-size="12.2" text-anchor="start" font-weight="bold" fill="#111" textLength="7.1" lengthAdjust="spacingAndGlyphs" stroke="#111" stroke-width="0.45">E</text><line x1="259.25" y1="570.15" x2="259.25" y2="729.9" stroke="#2a2a2a" stroke-width="1.3"/><line x1="256.25" y1="729.3" x2="259.25" y2="729.3" stroke="#2a2a2a" stroke-width="1.1"/><line x1="256.25" y1="697.55" x2="259.25" y2="697.55" stroke="#2a2a2a" stroke-width="1.1"/><line x1="256.25" y1="665.8" x2="259.25" y2="665.8" stroke="#2a2a2a" stroke-width="1.1"/><line x1="256.25" y1="634.05" x2="259.25" y2="634.05" stroke="#2a2a2a" stroke-width="1.1"/><line x1="256.25" y1="602.3" x2="259.25" y2="602.3" stroke="#2a2a2a" stroke-width="1.1"/><line x1="256.25" y1="570.55" x2="259.25" y2="570.55" stroke="#2a2a2a" stroke-width="1.1"/><line x1="257.65" y1="713.42" x2="259.25" y2="713.42" stroke="#2a2a2a" stroke-width="1.1"/><line x1="257.65" y1="681.67" x2="259.25" y2="681.67" stroke="#2a2a2a" stroke-width="1.1"/><line x1="257.65" y1="649.92" x2="259.25" y2="649.92" stroke="#2a2a2a" stroke-width="1.1"/><line x1="257.65" y1="618.17" x2="259.25" y2="618.17" stroke="#2a2a2a" stroke-width="1.1"/><line x1="257.65" y1="586.42" x2="259.25" y2="586.42" stroke="#2a2a2a" stroke-width="1.1"/><text x="252.75" y="732.4" font-size="8.6" text-anchor="end" font-weight="normal" fill="#333">0</text><text x="252.75" y="700.65" font-size="8.6" text-anchor="end" font-weight="normal" fill="#333">20</text><text x="252.75" y="668.9" font-size="8.6" text-anchor="end" font-weight="normal" fill="#333">40</text><text x="252.75" y="637.15" font-size="8.6" text-anchor="end" font-weight="normal" fill="#333">60</text><text x="252.75" y="605.4" font-size="8.6" text-anchor="end" font-weight="normal" fill="#333">80</text><text x="252.75" y="573.65" font-size="8.6" text-anchor="end" font-weight="normal" fill="#333">100</text><line x1="258.75" y1="729.3" x2="446.5" y2="729.3" stroke="#2a2a2a" stroke-width="1.3"/><line x1="277.38" y1="611" x2="277.38" y2="607.5" stroke="#c8202f" stroke-width="1"/><polygon points="275.07,607 279.68,607 277.88,608.8 276.88,608.8" fill="#c8202f"/><rect x="270.25" y="610.5" width="14.25" height="118.8" fill="#c8202f"/><line x1="291.88" y1="600.75" x2="291.88" y2="597.5" stroke="#2a6aa8" stroke-width="1"/><polygon points="289.57,597 294.18,597 292.38,598.8 291.38,598.8" fill="#2a6aa8"/><rect x="284.5" y="600.25" width="14.75" height="129.05" fill="#0f4d80"/><line x1="306.38" y1="599.75" x2="306.38" y2="597.5" stroke="#3cb44a" stroke-width="1"/><polygon points="304.07,597 308.68,597 306.88,598.8 305.88,598.8" fill="#3cb44a"/><rect x="299.25" y="599.25" width="14.25" height="130.05" fill="#3cb44a"/><line x1="336.95" y1="703.9" x2="336.95" y2="701.5" stroke="#c8202f" stroke-width="1"/><polygon points="334.65,701 339.25,701 337.45,702.8 336.45,702.8" fill="#c8202f"/><rect x="329.7" y="703.4" width="14.5" height="25.9" fill="#c8202f"/><line x1="351.2" y1="710.9" x2="351.2" y2="706.9" stroke="#2a6aa8" stroke-width="1"/><polygon points="348.9,706.4 353.5,706.4 351.7,708.2 350.7,708.2" fill="#2a6aa8"/><rect x="344.2" y="710.4" width="14" height="18.9" fill="#0f4d80"/><line x1="365.5" y1="712.3" x2="365.5" y2="710.7" stroke="#3cb44a" stroke-width="1"/><polygon points="363.2,710.2 367.8,710.2 366,712 365,712" fill="#3cb44a"/><rect x="358.2" y="711.8" width="14.6" height="17.5" fill="#3cb44a"/><line x1="395" y1="717.7" x2="395" y2="715.5" stroke="#c8202f" stroke-width="1"/><polygon points="392.7,715 397.3,715 395.5,716.8 394.5,716.8" fill="#c8202f"/><rect x="387.9" y="717.2" width="14.2" height="12.1" fill="#c8202f"/><line x1="409.25" y1="720.9" x2="409.25" y2="720.1" stroke="#2a6aa8" stroke-width="1"/><polygon points="406.95,719.6 411.55,719.6 409.75,721.4 408.75,721.4" fill="#2a6aa8"/><rect x="402.1" y="720.4" width="14.3" height="8.9" fill="#0f4d80"/><line x1="423.65" y1="720.3" x2="423.65" y2="719.3" stroke="#3cb44a" stroke-width="1"/><polygon points="421.35,718.8 425.95,718.8 424.15,720.6 423.15,720.6" fill="#3cb44a"/><rect x="416.4" y="719.8" width="14.5" height="9.5" fill="#3cb44a"/><polyline points="277,598.75 277,585.75 301.25,585.75 301.25,590" fill="none" stroke="#2a2a2a" stroke-width="1"/><line x1="292.5" y1="590" x2="310" y2="590" stroke="#2a2a2a" stroke-width="1"/><text x="289.25" y="586" font-size="8.3" text-anchor="middle" font-weight="normal" fill="#222">*</text><polyline points="336.7,696.7 336.7,690.8 361,690.8 361,701" fill="none" stroke="#2a2a2a" stroke-width="1"/><line x1="352.3" y1="701" x2="369.3" y2="701" stroke="#2a2a2a" stroke-width="1"/><text x="348.8" y="691" font-size="8.3" text-anchor="middle" font-weight="normal" fill="#222">*</text><text x="292.3" y="739.6" font-size="8.6" text-anchor="middle" font-weight="normal" fill="#333" textLength="12.2" lengthAdjust="spacingAndGlyphs">G0</text><text x="351.2" y="739.6" font-size="8.6" text-anchor="middle" font-weight="normal" fill="#333" textLength="10.9" lengthAdjust="spacingAndGlyphs">G1</text><text x="410.3" y="739.6" font-size="8.6" text-anchor="middle" font-weight="normal" fill="#333" textLength="31.5" lengthAdjust="spacingAndGlyphs">S/G2/M</text><rect x="347.7" y="576.8" width="12.9" height="6.4" fill="#c8202f"/><text x="363.7" y="583.4" font-size="8.9" text-anchor="start" font-weight="normal" fill="#333" textLength="48.9" lengthAdjust="spacingAndGlyphs">Control, n = 5</text><rect x="347.7" y="589.4" width="12.9" height="6.4" fill="#0f4d80"/><text x="363.7" y="596" font-size="8.9" text-anchor="start" font-weight="normal" fill="#333" textLength="58.34" lengthAdjust="spacingAndGlyphs">Gata2+/&#8722;, n = 4</text><rect x="347.7" y="602" width="12.9" height="6.4" fill="#3cb44a"/><text x="363.7" y="608.6" font-size="8.9" text-anchor="start" font-weight="normal" fill="#333" textLength="52.81" lengthAdjust="spacingAndGlyphs">+9.5+/&#8722;, n = 4</text><text transform="translate(231.6,650.2) rotate(-90)" x="0" y="0" font-size="10" text-anchor="middle" fill="#222" stroke="#222" stroke-width="0.3" textLength="73.8" lengthAdjust="spacingAndGlyphs" style="white-space:pre">Frequency of MPP (%)</text><path d="M0 0H520V1.1H0Z M0 0H1.15V759H0Z M518.8 0H520V759H518.8Z M0 757.6H520V759H0Z" fill="#0d0a0a"/></svg></body></html>
